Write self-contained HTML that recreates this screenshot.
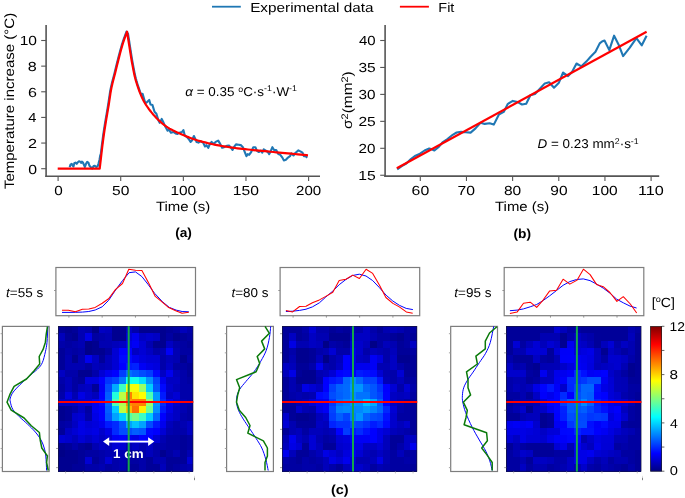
<!DOCTYPE html>
<html><head><meta charset="utf-8"><style>html,body{margin:0;padding:0;background:#fff;}svg{display:block;will-change:transform} text{text-rendering:geometricPrecision}</style></head><body>
<svg width="685" height="498" viewBox="0 0 685 498">
<line x1="212.00" y1="6.70" x2="240.80" y2="6.70" stroke="#1f77b4" stroke-width="1.8" />
<line x1="399.90" y1="6.70" x2="428.90" y2="6.70" stroke="#ff0000" stroke-width="1.8" />
<line x1="46.10" y1="25.00" x2="46.10" y2="177.10" stroke="#555" stroke-width="1.6" />
<line x1="45.30" y1="176.30" x2="320.00" y2="176.30" stroke="#555" stroke-width="1.6" />
<line x1="41.20" y1="168.70" x2="46.10" y2="168.70" stroke="#555" stroke-width="1.1" />
<line x1="41.20" y1="143.06" x2="46.10" y2="143.06" stroke="#555" stroke-width="1.1" />
<line x1="41.20" y1="117.42" x2="46.10" y2="117.42" stroke="#555" stroke-width="1.1" />
<line x1="41.20" y1="91.78" x2="46.10" y2="91.78" stroke="#555" stroke-width="1.1" />
<line x1="41.20" y1="66.14" x2="46.10" y2="66.14" stroke="#555" stroke-width="1.1" />
<line x1="41.20" y1="40.50" x2="46.10" y2="40.50" stroke="#555" stroke-width="1.1" />
<line x1="58.10" y1="176.30" x2="58.10" y2="181.00" stroke="#555" stroke-width="1.1" />
<line x1="120.72" y1="176.30" x2="120.72" y2="181.00" stroke="#555" stroke-width="1.1" />
<line x1="183.35" y1="176.30" x2="183.35" y2="181.00" stroke="#555" stroke-width="1.1" />
<line x1="245.97" y1="176.30" x2="245.97" y2="181.00" stroke="#555" stroke-width="1.1" />
<line x1="308.60" y1="176.30" x2="308.60" y2="181.00" stroke="#555" stroke-width="1.1" />
<line x1="385.10" y1="25.10" x2="385.10" y2="176.90" stroke="#555" stroke-width="1.6" />
<line x1="384.30" y1="176.10" x2="659.20" y2="176.10" stroke="#555" stroke-width="1.6" />
<line x1="380.20" y1="175.25" x2="385.10" y2="175.25" stroke="#555" stroke-width="1.1" />
<line x1="380.20" y1="148.30" x2="385.10" y2="148.30" stroke="#555" stroke-width="1.1" />
<line x1="380.20" y1="121.35" x2="385.10" y2="121.35" stroke="#555" stroke-width="1.1" />
<line x1="380.20" y1="94.40" x2="385.10" y2="94.40" stroke="#555" stroke-width="1.1" />
<line x1="380.20" y1="67.45" x2="385.10" y2="67.45" stroke="#555" stroke-width="1.1" />
<line x1="380.20" y1="40.50" x2="385.10" y2="40.50" stroke="#555" stroke-width="1.1" />
<line x1="420.30" y1="176.10" x2="420.30" y2="181.00" stroke="#555" stroke-width="1.1" />
<line x1="466.46" y1="176.10" x2="466.46" y2="181.00" stroke="#555" stroke-width="1.1" />
<line x1="512.62" y1="176.10" x2="512.62" y2="181.00" stroke="#555" stroke-width="1.1" />
<line x1="558.78" y1="176.10" x2="558.78" y2="181.00" stroke="#555" stroke-width="1.1" />
<line x1="604.94" y1="176.10" x2="604.94" y2="181.00" stroke="#555" stroke-width="1.1" />
<line x1="651.10" y1="176.10" x2="651.10" y2="181.00" stroke="#555" stroke-width="1.1" />
<polyline points="69.70,167.30 70.50,164.60 71.70,163.80 72.60,165.50 73.50,166.50 74.30,163.20 75.50,162.60 76.70,163.80 77.60,162.60 79.00,161.30 80.20,161.70 81.10,162.90 81.90,161.70 82.80,162.30 83.70,164.30 84.90,167.00 86.00,163.80 87.20,161.90 88.40,162.60 89.50,165.80 90.70,167.00 92.20,168.60 93.60,166.10 94.80,165.80 96.20,167.00 97.70,166.10 98.60,163.20 99.50,159.70 100.30,155.00 100.13,159.83 100.84,153.72 101.62,147.21 102.42,140.79 103.20,135.00 104.00,129.63 104.86,124.23 105.74,118.92 106.61,113.86 107.41,109.18 108.10,105.00 108.65,101.45 109.09,98.46 109.47,95.83 109.83,93.41 110.22,91.02 110.70,88.50 111.26,85.89 111.87,83.34 112.51,80.83 113.17,78.31 113.84,75.78 114.50,73.20 115.16,70.54 115.82,67.83 116.49,65.09 117.16,62.37 117.83,59.69 118.50,57.10 119.17,54.56 119.83,52.05 120.50,49.58 121.17,47.19 121.83,44.88 122.50,42.70 123.21,40.54 123.98,38.37 124.75,36.30 125.46,34.43 126.06,32.86 126.50,31.70 126.60,33.50 128.01,33.56 128.29,35.39 128.63,37.58 129.00,39.99 129.39,42.52 129.78,45.05 130.16,47.44 130.50,49.60 130.81,51.54 131.09,53.38 131.37,55.15 131.64,56.89 131.93,58.62 132.22,60.38 132.54,62.20 132.90,64.10 133.28,66.09 133.66,68.14 134.05,70.23 134.47,72.35 134.91,74.49 135.40,76.64 135.92,78.78 136.50,80.90 137.14,83.04 137.82,85.23 138.56,87.45 139.33,89.65 140.12,91.82 140.94,93.92 141.77,95.92 142.60,97.80 142.60,93.90 145.30,103.10 146.60,102.50 149.20,99.90 150.50,104.50 152.50,105.10 154.50,111.70 156.40,113.70 158.40,120.20 159.70,122.90 161.70,118.90 163.00,121.50 165.00,126.10 167.60,130.70 168.90,129.40 170.90,132.70 173.50,132.00 175.50,133.40 177.50,134.00 179.40,132.70 182.00,132.00 183.40,130.10 184.70,135.30 187.30,137.30 189.30,139.90 190.60,141.90 191.90,140.60 193.90,136.00 195.20,138.60 196.50,141.90 198.50,142.60 200.40,141.20 203.10,142.60 205.00,146.50 206.40,145.20 208.30,147.80 209.60,144.50 211.60,141.90 213.60,143.90 215.60,141.90 218.20,140.60 220.20,143.90 222.10,147.80 224.10,147.20 226.70,145.80 229.00,145.50 231.10,147.90 232.50,150.00 233.90,147.20 236.00,144.40 238.70,144.70 240.80,145.10 242.90,147.20 245.00,152.70 246.40,156.20 247.70,154.10 249.10,154.80 251.20,152.00 253.30,147.20 255.40,147.20 256.80,150.70 258.80,152.00 260.90,150.70 262.30,152.70 263.70,149.30 265.80,150.70 267.80,152.00 269.20,154.10 270.60,151.40 272.40,147.20 274.10,150.00 276.20,150.00 278.30,154.10 280.30,154.80 282.40,157.60 283.80,160.40 285.90,159.70 288.00,157.60 290.00,156.20 291.40,153.40 293.50,155.50 295.60,152.70 298.40,150.40 300.40,151.40 302.50,152.70 303.90,156.20 305.30,156.20 307.40,157.60" fill="none" stroke="#1f77b4" stroke-width="2.1" stroke-linejoin="round" />
<polyline points="57.70,168.70 99.70,168.70 100.14,164.99 100.73,159.83 101.44,153.72 102.22,147.21 103.02,140.79 103.80,135.00 104.60,129.63 105.46,124.23 106.34,118.92 107.21,113.86 108.01,109.18 108.70,105.00 109.25,101.45 109.69,98.46 110.07,95.83 110.43,93.41 110.82,91.02 111.30,88.50 111.86,85.89 112.47,83.34 113.11,80.83 113.77,78.31 114.44,75.78 115.10,73.20 115.76,70.54 116.42,67.83 117.09,65.09 117.76,62.37 118.43,59.69 119.10,57.10 119.77,54.56 120.43,52.05 121.10,49.58 121.77,47.19 122.43,44.88 123.10,42.70 123.81,40.54 124.58,38.37 125.35,36.30 126.06,34.43 126.66,32.86 127.10,31.70 127.31,33.06 127.59,34.89 127.93,37.08 128.30,39.49 128.69,42.02 129.08,44.55 129.46,46.94 129.80,49.10 130.11,51.04 130.39,52.88 130.67,54.65 130.94,56.39 131.23,58.12 131.52,59.88 131.84,61.70 132.20,63.60 132.58,65.59 132.96,67.64 133.35,69.73 133.77,71.85 134.21,73.99 134.70,76.14 135.22,78.28 135.80,80.40 136.44,82.54 137.12,84.73 137.86,86.95 138.63,89.15 139.42,91.32 140.24,93.42 141.07,95.42 141.90,97.30 142.73,99.04 143.57,100.67 144.41,102.21 145.28,103.67 146.18,105.10 147.11,106.49 148.08,107.89 149.10,109.30 150.18,110.73 151.30,112.16 152.47,113.58 153.67,114.98 154.90,116.34 156.15,117.68 157.42,118.96 158.70,120.20 159.97,121.38 161.23,122.50 162.49,123.59 163.79,124.63 165.13,125.65 166.53,126.64 168.01,127.62 169.60,128.60 171.33,129.58 173.21,130.55 175.19,131.51 177.23,132.45 179.28,133.36 181.28,134.22 183.21,135.04 185.00,135.80 186.66,136.49 188.22,137.12 189.71,137.70 191.15,138.24 192.58,138.75 194.01,139.24 195.48,139.72 197.00,140.20 198.58,140.68 200.20,141.14 201.85,141.59 203.50,142.02 205.15,142.44 206.80,142.84 208.42,143.23 210.00,143.60 211.51,143.95 212.93,144.27 214.31,144.56 215.69,144.85 217.10,145.13 218.60,145.41 220.22,145.70 222.00,146.00 223.94,146.32 225.98,146.64 228.13,146.97 230.38,147.31 232.69,147.64 235.08,147.97 237.52,148.29 240.00,148.60 242.55,148.90 245.20,149.20 247.91,149.49 250.69,149.77 253.50,150.06 256.34,150.34 259.17,150.62 262.00,150.90 264.83,151.18 267.68,151.46 270.55,151.73 273.44,152.01 276.33,152.28 279.23,152.55 282.12,152.83 285.00,153.10 288.03,153.39 291.29,153.70 294.64,154.02 297.94,154.34 301.06,154.64 303.87,154.90 306.23,155.13 308.00,155.30" fill="none" stroke="#ff0000" stroke-width="2.2" stroke-linejoin="round" />
<polyline points="397.20,169.40 401.70,166.10 406.30,163.50 410.90,159.00 415.50,155.70 420.00,153.70 424.60,150.50 429.20,148.50 431.80,149.20 434.40,150.50 439.00,146.60 442.90,142.00 447.40,139.00 452.70,134.80 456.60,132.50 461.10,131.90 465.70,132.20 470.60,132.60 475.50,128.40 480.50,122.70 484.70,123.90 489.60,123.20 493.80,124.60 498.80,114.70 503.70,111.90 507.90,103.80 512.80,100.90 517.70,102.10 522.00,104.50 526.20,103.80 530.40,95.30 535.00,94.00 539.90,88.80 544.80,83.40 549.10,82.30 554.00,87.70 558.90,82.70 563.10,72.50 568.10,76.10 572.30,71.50 576.50,63.50 581.40,66.30 586.30,61.60 590.60,56.70 595.50,51.80 599.70,43.40 602.00,41.50 604.50,40.50 609.30,50.10 614.10,35.70 618.90,45.30 623.10,56.10 629.80,47.70 636.40,38.10 641.80,45.30 646.60,35.70" fill="none" stroke="#1f77b4" stroke-width="2.1" stroke-linejoin="round" />
<line x1="396.80" y1="168.30" x2="646.60" y2="31.80" stroke="#ff0000" stroke-width="2.2" />
<g shape-rendering="crispEdges"><rect x="58.10" y="326.20" width="6.81" height="7.32" fill="#000099"/><rect x="64.86" y="326.20" width="6.81" height="7.32" fill="#000090"/><rect x="71.62" y="326.20" width="6.81" height="7.32" fill="#000099"/><rect x="78.38" y="326.20" width="6.81" height="7.32" fill="#0000b2"/><rect x="85.14" y="326.20" width="6.81" height="7.32" fill="#0000aa"/><rect x="91.90" y="326.20" width="6.81" height="7.32" fill="#000088"/><rect x="98.66" y="326.20" width="6.81" height="7.32" fill="#0000c3"/><rect x="105.42" y="326.20" width="6.81" height="7.32" fill="#0000bb"/><rect x="112.18" y="326.20" width="6.81" height="7.32" fill="#000090"/><rect x="118.94" y="326.20" width="6.81" height="7.32" fill="#000090"/><rect x="125.70" y="326.20" width="6.81" height="7.32" fill="#0000c3"/><rect x="132.46" y="326.20" width="6.81" height="7.32" fill="#0000aa"/><rect x="139.22" y="326.20" width="6.81" height="7.32" fill="#000090"/><rect x="145.98" y="326.20" width="6.81" height="7.32" fill="#000090"/><rect x="152.74" y="326.20" width="6.81" height="7.32" fill="#000090"/><rect x="159.50" y="326.20" width="6.81" height="7.32" fill="#000090"/><rect x="166.26" y="326.20" width="6.81" height="7.32" fill="#000099"/><rect x="173.02" y="326.20" width="6.81" height="7.32" fill="#0000a2"/><rect x="179.78" y="326.20" width="6.81" height="7.32" fill="#0000bb"/><rect x="186.54" y="326.20" width="6.81" height="7.32" fill="#0000aa"/><rect x="58.10" y="333.47" width="6.81" height="7.32" fill="#0000bb"/><rect x="64.86" y="333.47" width="6.81" height="7.32" fill="#000099"/><rect x="71.62" y="333.47" width="6.81" height="7.32" fill="#000090"/><rect x="78.38" y="333.47" width="6.81" height="7.32" fill="#0000b2"/><rect x="85.14" y="333.47" width="6.81" height="7.32" fill="#0000e5"/><rect x="91.90" y="333.47" width="6.81" height="7.32" fill="#0000a2"/><rect x="98.66" y="333.47" width="6.81" height="7.32" fill="#0000aa"/><rect x="105.42" y="333.47" width="6.81" height="7.32" fill="#0000b2"/><rect x="112.18" y="333.47" width="6.81" height="7.32" fill="#000090"/><rect x="118.94" y="333.47" width="6.81" height="7.32" fill="#000090"/><rect x="125.70" y="333.47" width="6.81" height="7.32" fill="#0000d4"/><rect x="132.46" y="333.47" width="6.81" height="7.32" fill="#0000ee"/><rect x="139.22" y="333.47" width="6.81" height="7.32" fill="#0000c3"/><rect x="145.98" y="333.47" width="6.81" height="7.32" fill="#0000cc"/><rect x="152.74" y="333.47" width="6.81" height="7.32" fill="#0000c3"/><rect x="159.50" y="333.47" width="6.81" height="7.32" fill="#000090"/><rect x="166.26" y="333.47" width="6.81" height="7.32" fill="#0000a2"/><rect x="173.02" y="333.47" width="6.81" height="7.32" fill="#000090"/><rect x="179.78" y="333.47" width="6.81" height="7.32" fill="#000099"/><rect x="186.54" y="333.47" width="6.81" height="7.32" fill="#0000a2"/><rect x="58.10" y="340.74" width="6.81" height="7.32" fill="#0000aa"/><rect x="64.86" y="340.74" width="6.81" height="7.32" fill="#0000a2"/><rect x="71.62" y="340.74" width="6.81" height="7.32" fill="#0000aa"/><rect x="78.38" y="340.74" width="6.81" height="7.32" fill="#0000b2"/><rect x="85.14" y="340.74" width="6.81" height="7.32" fill="#000088"/><rect x="91.90" y="340.74" width="6.81" height="7.32" fill="#000090"/><rect x="98.66" y="340.74" width="6.81" height="7.32" fill="#0000b2"/><rect x="105.42" y="340.74" width="6.81" height="7.32" fill="#0000b2"/><rect x="112.18" y="340.74" width="6.81" height="7.32" fill="#0000bb"/><rect x="118.94" y="340.74" width="6.81" height="7.32" fill="#0000c3"/><rect x="125.70" y="340.74" width="6.81" height="7.32" fill="#0000e5"/><rect x="132.46" y="340.74" width="6.81" height="7.32" fill="#0000f6"/><rect x="139.22" y="340.74" width="6.81" height="7.32" fill="#0000d4"/><rect x="145.98" y="340.74" width="6.81" height="7.32" fill="#0000b2"/><rect x="152.74" y="340.74" width="6.81" height="7.32" fill="#000090"/><rect x="159.50" y="340.74" width="6.81" height="7.32" fill="#000090"/><rect x="166.26" y="340.74" width="6.81" height="7.32" fill="#0000c3"/><rect x="173.02" y="340.74" width="6.81" height="7.32" fill="#0000aa"/><rect x="179.78" y="340.74" width="6.81" height="7.32" fill="#0000a2"/><rect x="186.54" y="340.74" width="6.81" height="7.32" fill="#000099"/><rect x="58.10" y="348.01" width="6.81" height="7.32" fill="#000099"/><rect x="64.86" y="348.01" width="6.81" height="7.32" fill="#0000aa"/><rect x="71.62" y="348.01" width="6.81" height="7.32" fill="#0000a2"/><rect x="78.38" y="348.01" width="6.81" height="7.32" fill="#0000aa"/><rect x="85.14" y="348.01" width="6.81" height="7.32" fill="#000088"/><rect x="91.90" y="348.01" width="6.81" height="7.32" fill="#000090"/><rect x="98.66" y="348.01" width="6.81" height="7.32" fill="#000090"/><rect x="105.42" y="348.01" width="6.81" height="7.32" fill="#0000a2"/><rect x="112.18" y="348.01" width="6.81" height="7.32" fill="#0000d4"/><rect x="118.94" y="348.01" width="6.81" height="7.32" fill="#0000ff"/><rect x="125.70" y="348.01" width="6.81" height="7.32" fill="#0000ff"/><rect x="132.46" y="348.01" width="6.81" height="7.32" fill="#0000c3"/><rect x="139.22" y="348.01" width="6.81" height="7.32" fill="#0000d4"/><rect x="145.98" y="348.01" width="6.81" height="7.32" fill="#0000c3"/><rect x="152.74" y="348.01" width="6.81" height="7.32" fill="#0000aa"/><rect x="159.50" y="348.01" width="6.81" height="7.32" fill="#0000b2"/><rect x="166.26" y="348.01" width="6.81" height="7.32" fill="#0000f6"/><rect x="173.02" y="348.01" width="6.81" height="7.32" fill="#0000b2"/><rect x="179.78" y="348.01" width="6.81" height="7.32" fill="#0000a2"/><rect x="186.54" y="348.01" width="6.81" height="7.32" fill="#0000a2"/><rect x="58.10" y="355.28" width="6.81" height="7.32" fill="#000099"/><rect x="64.86" y="355.28" width="6.81" height="7.32" fill="#0000b2"/><rect x="71.62" y="355.28" width="6.81" height="7.32" fill="#000090"/><rect x="78.38" y="355.28" width="6.81" height="7.32" fill="#0000b2"/><rect x="85.14" y="355.28" width="6.81" height="7.32" fill="#0000ee"/><rect x="91.90" y="355.28" width="6.81" height="7.32" fill="#0000c3"/><rect x="98.66" y="355.28" width="6.81" height="7.32" fill="#000099"/><rect x="105.42" y="355.28" width="6.81" height="7.32" fill="#0000bb"/><rect x="112.18" y="355.28" width="6.81" height="7.32" fill="#0000d4"/><rect x="118.94" y="355.28" width="6.81" height="7.32" fill="#0008ff"/><rect x="125.70" y="355.28" width="6.81" height="7.32" fill="#0008ff"/><rect x="132.46" y="355.28" width="6.81" height="7.32" fill="#0000ee"/><rect x="139.22" y="355.28" width="6.81" height="7.32" fill="#0000dd"/><rect x="145.98" y="355.28" width="6.81" height="7.32" fill="#0000d4"/><rect x="152.74" y="355.28" width="6.81" height="7.32" fill="#0000d4"/><rect x="159.50" y="355.28" width="6.81" height="7.32" fill="#0000aa"/><rect x="166.26" y="355.28" width="6.81" height="7.32" fill="#0000bb"/><rect x="173.02" y="355.28" width="6.81" height="7.32" fill="#0000b2"/><rect x="179.78" y="355.28" width="6.81" height="7.32" fill="#000090"/><rect x="186.54" y="355.28" width="6.81" height="7.32" fill="#0000aa"/><rect x="58.10" y="362.55" width="6.81" height="7.32" fill="#000099"/><rect x="64.86" y="362.55" width="6.81" height="7.32" fill="#0000b2"/><rect x="71.62" y="362.55" width="6.81" height="7.32" fill="#0000b2"/><rect x="78.38" y="362.55" width="6.81" height="7.32" fill="#0000b2"/><rect x="85.14" y="362.55" width="6.81" height="7.32" fill="#0000a2"/><rect x="91.90" y="362.55" width="6.81" height="7.32" fill="#0000bb"/><rect x="98.66" y="362.55" width="6.81" height="7.32" fill="#0000b2"/><rect x="105.42" y="362.55" width="6.81" height="7.32" fill="#0000bb"/><rect x="112.18" y="362.55" width="6.81" height="7.32" fill="#0000d4"/><rect x="118.94" y="362.55" width="6.81" height="7.32" fill="#0000ff"/><rect x="125.70" y="362.55" width="6.81" height="7.32" fill="#001aff"/><rect x="132.46" y="362.55" width="6.81" height="7.32" fill="#0022ff"/><rect x="139.22" y="362.55" width="6.81" height="7.32" fill="#0000f6"/><rect x="145.98" y="362.55" width="6.81" height="7.32" fill="#0000e5"/><rect x="152.74" y="362.55" width="6.81" height="7.32" fill="#0000dd"/><rect x="159.50" y="362.55" width="6.81" height="7.32" fill="#0000aa"/><rect x="166.26" y="362.55" width="6.81" height="7.32" fill="#0000c3"/><rect x="173.02" y="362.55" width="6.81" height="7.32" fill="#0000a2"/><rect x="179.78" y="362.55" width="6.81" height="7.32" fill="#0000a2"/><rect x="186.54" y="362.55" width="6.81" height="7.32" fill="#000099"/><rect x="58.10" y="369.82" width="6.81" height="7.32" fill="#0000c3"/><rect x="64.86" y="369.82" width="6.81" height="7.32" fill="#0000aa"/><rect x="71.62" y="369.82" width="6.81" height="7.32" fill="#0000aa"/><rect x="78.38" y="369.82" width="6.81" height="7.32" fill="#000090"/><rect x="85.14" y="369.82" width="6.81" height="7.32" fill="#000090"/><rect x="91.90" y="369.82" width="6.81" height="7.32" fill="#0000aa"/><rect x="98.66" y="369.82" width="6.81" height="7.32" fill="#0000d4"/><rect x="105.42" y="369.82" width="6.81" height="7.32" fill="#0000ee"/><rect x="112.18" y="369.82" width="6.81" height="7.32" fill="#0000ff"/><rect x="118.94" y="369.82" width="6.81" height="7.32" fill="#003cff"/><rect x="125.70" y="369.82" width="6.81" height="7.32" fill="#006eff"/><rect x="132.46" y="369.82" width="6.81" height="7.32" fill="#005eff"/><rect x="139.22" y="369.82" width="6.81" height="7.32" fill="#004cff"/><rect x="145.98" y="369.82" width="6.81" height="7.32" fill="#003cff"/><rect x="152.74" y="369.82" width="6.81" height="7.32" fill="#0008ff"/><rect x="159.50" y="369.82" width="6.81" height="7.32" fill="#0000c3"/><rect x="166.26" y="369.82" width="6.81" height="7.32" fill="#0000ee"/><rect x="173.02" y="369.82" width="6.81" height="7.32" fill="#0000bb"/><rect x="179.78" y="369.82" width="6.81" height="7.32" fill="#0000aa"/><rect x="186.54" y="369.82" width="6.81" height="7.32" fill="#000099"/><rect x="58.10" y="377.09" width="6.81" height="7.32" fill="#0000aa"/><rect x="64.86" y="377.09" width="6.81" height="7.32" fill="#0000bb"/><rect x="71.62" y="377.09" width="6.81" height="7.32" fill="#0000a2"/><rect x="78.38" y="377.09" width="6.81" height="7.32" fill="#000099"/><rect x="85.14" y="377.09" width="6.81" height="7.32" fill="#0000dd"/><rect x="91.90" y="377.09" width="6.81" height="7.32" fill="#0000dd"/><rect x="98.66" y="377.09" width="6.81" height="7.32" fill="#0000ff"/><rect x="105.42" y="377.09" width="6.81" height="7.32" fill="#0033ff"/><rect x="112.18" y="377.09" width="6.81" height="7.32" fill="#0044ff"/><rect x="118.94" y="377.09" width="6.81" height="7.32" fill="#0077ff"/><rect x="125.70" y="377.09" width="6.81" height="7.32" fill="#08fff7"/><rect x="132.46" y="377.09" width="6.81" height="7.32" fill="#11ffee"/><rect x="139.22" y="377.09" width="6.81" height="7.32" fill="#00ddff"/><rect x="145.98" y="377.09" width="6.81" height="7.32" fill="#0090ff"/><rect x="152.74" y="377.09" width="6.81" height="7.32" fill="#0044ff"/><rect x="159.50" y="377.09" width="6.81" height="7.32" fill="#0000ee"/><rect x="166.26" y="377.09" width="6.81" height="7.32" fill="#0000c3"/><rect x="173.02" y="377.09" width="6.81" height="7.32" fill="#0000c3"/><rect x="179.78" y="377.09" width="6.81" height="7.32" fill="#0000aa"/><rect x="186.54" y="377.09" width="6.81" height="7.32" fill="#0000a2"/><rect x="58.10" y="384.36" width="6.81" height="7.32" fill="#0000a2"/><rect x="64.86" y="384.36" width="6.81" height="7.32" fill="#0000bb"/><rect x="71.62" y="384.36" width="6.81" height="7.32" fill="#0000a2"/><rect x="78.38" y="384.36" width="6.81" height="7.32" fill="#0000bb"/><rect x="85.14" y="384.36" width="6.81" height="7.32" fill="#0000c3"/><rect x="91.90" y="384.36" width="6.81" height="7.32" fill="#000099"/><rect x="98.66" y="384.36" width="6.81" height="7.32" fill="#0000f6"/><rect x="105.42" y="384.36" width="6.81" height="7.32" fill="#004cff"/><rect x="112.18" y="384.36" width="6.81" height="7.32" fill="#00aaff"/><rect x="118.94" y="384.36" width="6.81" height="7.32" fill="#3cffc3"/><rect x="125.70" y="384.36" width="6.81" height="7.32" fill="#eeff11"/><rect x="132.46" y="384.36" width="6.81" height="7.32" fill="#f7ff08"/><rect x="139.22" y="384.36" width="6.81" height="7.32" fill="#99ff66"/><rect x="145.98" y="384.36" width="6.81" height="7.32" fill="#00ccff"/><rect x="152.74" y="384.36" width="6.81" height="7.32" fill="#0055ff"/><rect x="159.50" y="384.36" width="6.81" height="7.32" fill="#0008ff"/><rect x="166.26" y="384.36" width="6.81" height="7.32" fill="#0000cc"/><rect x="173.02" y="384.36" width="6.81" height="7.32" fill="#0000bb"/><rect x="179.78" y="384.36" width="6.81" height="7.32" fill="#0000aa"/><rect x="186.54" y="384.36" width="6.81" height="7.32" fill="#0000aa"/><rect x="58.10" y="391.63" width="6.81" height="7.32" fill="#0000aa"/><rect x="64.86" y="391.63" width="6.81" height="7.32" fill="#0000dd"/><rect x="71.62" y="391.63" width="6.81" height="7.32" fill="#0000b2"/><rect x="78.38" y="391.63" width="6.81" height="7.32" fill="#0000e5"/><rect x="85.14" y="391.63" width="6.81" height="7.32" fill="#0000cc"/><rect x="91.90" y="391.63" width="6.81" height="7.32" fill="#0000bb"/><rect x="98.66" y="391.63" width="6.81" height="7.32" fill="#0000ff"/><rect x="105.42" y="391.63" width="6.81" height="7.32" fill="#005eff"/><rect x="112.18" y="391.63" width="6.81" height="7.32" fill="#22ffdd"/><rect x="118.94" y="391.63" width="6.81" height="7.32" fill="#bbff44"/><rect x="125.70" y="391.63" width="6.81" height="7.32" fill="#ff8000"/><rect x="132.46" y="391.63" width="6.81" height="7.32" fill="#ffe500"/><rect x="139.22" y="391.63" width="6.81" height="7.32" fill="#ffff00"/><rect x="145.98" y="391.63" width="6.81" height="7.32" fill="#4dffb2"/><rect x="152.74" y="391.63" width="6.81" height="7.32" fill="#0099ff"/><rect x="159.50" y="391.63" width="6.81" height="7.32" fill="#001aff"/><rect x="166.26" y="391.63" width="6.81" height="7.32" fill="#0000c3"/><rect x="173.02" y="391.63" width="6.81" height="7.32" fill="#0000d4"/><rect x="179.78" y="391.63" width="6.81" height="7.32" fill="#0000aa"/><rect x="186.54" y="391.63" width="6.81" height="7.32" fill="#0000aa"/><rect x="58.10" y="398.90" width="6.81" height="7.32" fill="#0000c3"/><rect x="64.86" y="398.90" width="6.81" height="7.32" fill="#0000c3"/><rect x="71.62" y="398.90" width="6.81" height="7.32" fill="#0000c3"/><rect x="78.38" y="398.90" width="6.81" height="7.32" fill="#0000d4"/><rect x="85.14" y="398.90" width="6.81" height="7.32" fill="#0000d4"/><rect x="91.90" y="398.90" width="6.81" height="7.32" fill="#0000ee"/><rect x="98.66" y="398.90" width="6.81" height="7.32" fill="#0008ff"/><rect x="105.42" y="398.90" width="6.81" height="7.32" fill="#0066ff"/><rect x="112.18" y="398.90" width="6.81" height="7.32" fill="#4dffb2"/><rect x="118.94" y="398.90" width="6.81" height="7.32" fill="#aaff55"/><rect x="125.70" y="398.90" width="6.81" height="7.32" fill="#ff9000"/><rect x="132.46" y="398.90" width="6.81" height="7.32" fill="#ff8000"/><rect x="139.22" y="398.90" width="6.81" height="7.32" fill="#ff8000"/><rect x="145.98" y="398.90" width="6.81" height="7.32" fill="#91ff6e"/><rect x="152.74" y="398.90" width="6.81" height="7.32" fill="#0099ff"/><rect x="159.50" y="398.90" width="6.81" height="7.32" fill="#002aff"/><rect x="166.26" y="398.90" width="6.81" height="7.32" fill="#0000ee"/><rect x="173.02" y="398.90" width="6.81" height="7.32" fill="#0000cc"/><rect x="179.78" y="398.90" width="6.81" height="7.32" fill="#0000b2"/><rect x="186.54" y="398.90" width="6.81" height="7.32" fill="#0000aa"/><rect x="58.10" y="406.17" width="6.81" height="7.32" fill="#000090"/><rect x="64.86" y="406.17" width="6.81" height="7.32" fill="#000099"/><rect x="71.62" y="406.17" width="6.81" height="7.32" fill="#0000aa"/><rect x="78.38" y="406.17" width="6.81" height="7.32" fill="#0000c3"/><rect x="85.14" y="406.17" width="6.81" height="7.32" fill="#0000a2"/><rect x="91.90" y="406.17" width="6.81" height="7.32" fill="#0000ee"/><rect x="98.66" y="406.17" width="6.81" height="7.32" fill="#0000ff"/><rect x="105.42" y="406.17" width="6.81" height="7.32" fill="#005eff"/><rect x="112.18" y="406.17" width="6.81" height="7.32" fill="#00ccff"/><rect x="118.94" y="406.17" width="6.81" height="7.32" fill="#bbff44"/><rect x="125.70" y="406.17" width="6.81" height="7.32" fill="#ffbb00"/><rect x="132.46" y="406.17" width="6.81" height="7.32" fill="#ff6f00"/><rect x="139.22" y="406.17" width="6.81" height="7.32" fill="#ffee00"/><rect x="145.98" y="406.17" width="6.81" height="7.32" fill="#6eff90"/><rect x="152.74" y="406.17" width="6.81" height="7.32" fill="#0090ff"/><rect x="159.50" y="406.17" width="6.81" height="7.32" fill="#001aff"/><rect x="166.26" y="406.17" width="6.81" height="7.32" fill="#0000e5"/><rect x="173.02" y="406.17" width="6.81" height="7.32" fill="#0000c3"/><rect x="179.78" y="406.17" width="6.81" height="7.32" fill="#0000b2"/><rect x="186.54" y="406.17" width="6.81" height="7.32" fill="#0000a2"/><rect x="58.10" y="413.44" width="6.81" height="7.32" fill="#000090"/><rect x="64.86" y="413.44" width="6.81" height="7.32" fill="#000099"/><rect x="71.62" y="413.44" width="6.81" height="7.32" fill="#0000cc"/><rect x="78.38" y="413.44" width="6.81" height="7.32" fill="#0000d4"/><rect x="85.14" y="413.44" width="6.81" height="7.32" fill="#0000aa"/><rect x="91.90" y="413.44" width="6.81" height="7.32" fill="#0000e5"/><rect x="98.66" y="413.44" width="6.81" height="7.32" fill="#0000ff"/><rect x="105.42" y="413.44" width="6.81" height="7.32" fill="#0055ff"/><rect x="112.18" y="413.44" width="6.81" height="7.32" fill="#00a2ff"/><rect x="118.94" y="413.44" width="6.81" height="7.32" fill="#00d4ff"/><rect x="125.70" y="413.44" width="6.81" height="7.32" fill="#55ffaa"/><rect x="132.46" y="413.44" width="6.81" height="7.32" fill="#77ff88"/><rect x="139.22" y="413.44" width="6.81" height="7.32" fill="#3cffc3"/><rect x="145.98" y="413.44" width="6.81" height="7.32" fill="#00ccff"/><rect x="152.74" y="413.44" width="6.81" height="7.32" fill="#0066ff"/><rect x="159.50" y="413.44" width="6.81" height="7.32" fill="#0000ff"/><rect x="166.26" y="413.44" width="6.81" height="7.32" fill="#0000d4"/><rect x="173.02" y="413.44" width="6.81" height="7.32" fill="#0000c3"/><rect x="179.78" y="413.44" width="6.81" height="7.32" fill="#0000aa"/><rect x="186.54" y="413.44" width="6.81" height="7.32" fill="#0000a2"/><rect x="58.10" y="420.71" width="6.81" height="7.32" fill="#0000a2"/><rect x="64.86" y="420.71" width="6.81" height="7.32" fill="#0000aa"/><rect x="71.62" y="420.71" width="6.81" height="7.32" fill="#0000c3"/><rect x="78.38" y="420.71" width="6.81" height="7.32" fill="#0000e5"/><rect x="85.14" y="420.71" width="6.81" height="7.32" fill="#0000d4"/><rect x="91.90" y="420.71" width="6.81" height="7.32" fill="#0000dd"/><rect x="98.66" y="420.71" width="6.81" height="7.32" fill="#0000ee"/><rect x="105.42" y="420.71" width="6.81" height="7.32" fill="#001aff"/><rect x="112.18" y="420.71" width="6.81" height="7.32" fill="#002aff"/><rect x="118.94" y="420.71" width="6.81" height="7.32" fill="#0055ff"/><rect x="125.70" y="420.71" width="6.81" height="7.32" fill="#00a2ff"/><rect x="132.46" y="420.71" width="6.81" height="7.32" fill="#00c3ff"/><rect x="139.22" y="420.71" width="6.81" height="7.32" fill="#00a2ff"/><rect x="145.98" y="420.71" width="6.81" height="7.32" fill="#004cff"/><rect x="152.74" y="420.71" width="6.81" height="7.32" fill="#001aff"/><rect x="159.50" y="420.71" width="6.81" height="7.32" fill="#0000ee"/><rect x="166.26" y="420.71" width="6.81" height="7.32" fill="#0000bb"/><rect x="173.02" y="420.71" width="6.81" height="7.32" fill="#0000aa"/><rect x="179.78" y="420.71" width="6.81" height="7.32" fill="#0000b2"/><rect x="186.54" y="420.71" width="6.81" height="7.32" fill="#0000c3"/><rect x="58.10" y="427.98" width="6.81" height="7.32" fill="#000099"/><rect x="64.86" y="427.98" width="6.81" height="7.32" fill="#0000c3"/><rect x="71.62" y="427.98" width="6.81" height="7.32" fill="#0000d4"/><rect x="78.38" y="427.98" width="6.81" height="7.32" fill="#0000e5"/><rect x="85.14" y="427.98" width="6.81" height="7.32" fill="#0000dd"/><rect x="91.90" y="427.98" width="6.81" height="7.32" fill="#0000e5"/><rect x="98.66" y="427.98" width="6.81" height="7.32" fill="#0000cc"/><rect x="105.42" y="427.98" width="6.81" height="7.32" fill="#0000e5"/><rect x="112.18" y="427.98" width="6.81" height="7.32" fill="#002aff"/><rect x="118.94" y="427.98" width="6.81" height="7.32" fill="#004cff"/><rect x="125.70" y="427.98" width="6.81" height="7.32" fill="#004cff"/><rect x="132.46" y="427.98" width="6.81" height="7.32" fill="#005eff"/><rect x="139.22" y="427.98" width="6.81" height="7.32" fill="#0055ff"/><rect x="145.98" y="427.98" width="6.81" height="7.32" fill="#0008ff"/><rect x="152.74" y="427.98" width="6.81" height="7.32" fill="#0000ff"/><rect x="159.50" y="427.98" width="6.81" height="7.32" fill="#0000d4"/><rect x="166.26" y="427.98" width="6.81" height="7.32" fill="#0000b2"/><rect x="173.02" y="427.98" width="6.81" height="7.32" fill="#0000aa"/><rect x="179.78" y="427.98" width="6.81" height="7.32" fill="#0000aa"/><rect x="186.54" y="427.98" width="6.81" height="7.32" fill="#0000c3"/><rect x="58.10" y="435.25" width="6.81" height="7.32" fill="#0000d4"/><rect x="64.86" y="435.25" width="6.81" height="7.32" fill="#0000cc"/><rect x="71.62" y="435.25" width="6.81" height="7.32" fill="#0000bb"/><rect x="78.38" y="435.25" width="6.81" height="7.32" fill="#0000d4"/><rect x="85.14" y="435.25" width="6.81" height="7.32" fill="#0000c3"/><rect x="91.90" y="435.25" width="6.81" height="7.32" fill="#0000d4"/><rect x="98.66" y="435.25" width="6.81" height="7.32" fill="#0000c3"/><rect x="105.42" y="435.25" width="6.81" height="7.32" fill="#0000d4"/><rect x="112.18" y="435.25" width="6.81" height="7.32" fill="#0000f6"/><rect x="118.94" y="435.25" width="6.81" height="7.32" fill="#0000ff"/><rect x="125.70" y="435.25" width="6.81" height="7.32" fill="#0000ee"/><rect x="132.46" y="435.25" width="6.81" height="7.32" fill="#0000e5"/><rect x="139.22" y="435.25" width="6.81" height="7.32" fill="#0000ff"/><rect x="145.98" y="435.25" width="6.81" height="7.32" fill="#0000ff"/><rect x="152.74" y="435.25" width="6.81" height="7.32" fill="#0000d4"/><rect x="159.50" y="435.25" width="6.81" height="7.32" fill="#0000b2"/><rect x="166.26" y="435.25" width="6.81" height="7.32" fill="#0000a2"/><rect x="173.02" y="435.25" width="6.81" height="7.32" fill="#0000a2"/><rect x="179.78" y="435.25" width="6.81" height="7.32" fill="#000099"/><rect x="186.54" y="435.25" width="6.81" height="7.32" fill="#0000a2"/><rect x="58.10" y="442.52" width="6.81" height="7.32" fill="#000090"/><rect x="64.86" y="442.52" width="6.81" height="7.32" fill="#000099"/><rect x="71.62" y="442.52" width="6.81" height="7.32" fill="#0000aa"/><rect x="78.38" y="442.52" width="6.81" height="7.32" fill="#000099"/><rect x="85.14" y="442.52" width="6.81" height="7.32" fill="#000090"/><rect x="91.90" y="442.52" width="6.81" height="7.32" fill="#0000b2"/><rect x="98.66" y="442.52" width="6.81" height="7.32" fill="#0000c3"/><rect x="105.42" y="442.52" width="6.81" height="7.32" fill="#0000bb"/><rect x="112.18" y="442.52" width="6.81" height="7.32" fill="#0000d4"/><rect x="118.94" y="442.52" width="6.81" height="7.32" fill="#0000d4"/><rect x="125.70" y="442.52" width="6.81" height="7.32" fill="#0000b2"/><rect x="132.46" y="442.52" width="6.81" height="7.32" fill="#0000c3"/><rect x="139.22" y="442.52" width="6.81" height="7.32" fill="#0000b2"/><rect x="145.98" y="442.52" width="6.81" height="7.32" fill="#0000c3"/><rect x="152.74" y="442.52" width="6.81" height="7.32" fill="#0000aa"/><rect x="159.50" y="442.52" width="6.81" height="7.32" fill="#0000aa"/><rect x="166.26" y="442.52" width="6.81" height="7.32" fill="#0000a2"/><rect x="173.02" y="442.52" width="6.81" height="7.32" fill="#0000a2"/><rect x="179.78" y="442.52" width="6.81" height="7.32" fill="#000099"/><rect x="186.54" y="442.52" width="6.81" height="7.32" fill="#0000a2"/><rect x="58.10" y="449.79" width="6.81" height="7.32" fill="#000088"/><rect x="64.86" y="449.79" width="6.81" height="7.32" fill="#000090"/><rect x="71.62" y="449.79" width="6.81" height="7.32" fill="#000090"/><rect x="78.38" y="449.79" width="6.81" height="7.32" fill="#000099"/><rect x="85.14" y="449.79" width="6.81" height="7.32" fill="#0000a2"/><rect x="91.90" y="449.79" width="6.81" height="7.32" fill="#0000a2"/><rect x="98.66" y="449.79" width="6.81" height="7.32" fill="#0000aa"/><rect x="105.42" y="449.79" width="6.81" height="7.32" fill="#0000b2"/><rect x="112.18" y="449.79" width="6.81" height="7.32" fill="#0000b2"/><rect x="118.94" y="449.79" width="6.81" height="7.32" fill="#0000b2"/><rect x="125.70" y="449.79" width="6.81" height="7.32" fill="#000099"/><rect x="132.46" y="449.79" width="6.81" height="7.32" fill="#0000a2"/><rect x="139.22" y="449.79" width="6.81" height="7.32" fill="#0000aa"/><rect x="145.98" y="449.79" width="6.81" height="7.32" fill="#0000bb"/><rect x="152.74" y="449.79" width="6.81" height="7.32" fill="#0000aa"/><rect x="159.50" y="449.79" width="6.81" height="7.32" fill="#000090"/><rect x="166.26" y="449.79" width="6.81" height="7.32" fill="#0000a2"/><rect x="173.02" y="449.79" width="6.81" height="7.32" fill="#0000b2"/><rect x="179.78" y="449.79" width="6.81" height="7.32" fill="#000099"/><rect x="186.54" y="449.79" width="6.81" height="7.32" fill="#0000b2"/><rect x="58.10" y="457.06" width="6.81" height="7.32" fill="#000090"/><rect x="64.86" y="457.06" width="6.81" height="7.32" fill="#000090"/><rect x="71.62" y="457.06" width="6.81" height="7.32" fill="#000090"/><rect x="78.38" y="457.06" width="6.81" height="7.32" fill="#000099"/><rect x="85.14" y="457.06" width="6.81" height="7.32" fill="#0000d4"/><rect x="91.90" y="457.06" width="6.81" height="7.32" fill="#000099"/><rect x="98.66" y="457.06" width="6.81" height="7.32" fill="#0000aa"/><rect x="105.42" y="457.06" width="6.81" height="7.32" fill="#0000d4"/><rect x="112.18" y="457.06" width="6.81" height="7.32" fill="#0000aa"/><rect x="118.94" y="457.06" width="6.81" height="7.32" fill="#0000b2"/><rect x="125.70" y="457.06" width="6.81" height="7.32" fill="#0000a2"/><rect x="132.46" y="457.06" width="6.81" height="7.32" fill="#0000a2"/><rect x="139.22" y="457.06" width="6.81" height="7.32" fill="#0000aa"/><rect x="145.98" y="457.06" width="6.81" height="7.32" fill="#000099"/><rect x="152.74" y="457.06" width="6.81" height="7.32" fill="#0000b2"/><rect x="159.50" y="457.06" width="6.81" height="7.32" fill="#0000b2"/><rect x="166.26" y="457.06" width="6.81" height="7.32" fill="#000099"/><rect x="173.02" y="457.06" width="6.81" height="7.32" fill="#000099"/><rect x="179.78" y="457.06" width="6.81" height="7.32" fill="#000099"/><rect x="186.54" y="457.06" width="6.81" height="7.32" fill="#0000d4"/><rect x="58.10" y="464.33" width="6.81" height="7.32" fill="#000090"/><rect x="64.86" y="464.33" width="6.81" height="7.32" fill="#000090"/><rect x="71.62" y="464.33" width="6.81" height="7.32" fill="#000099"/><rect x="78.38" y="464.33" width="6.81" height="7.32" fill="#000099"/><rect x="85.14" y="464.33" width="6.81" height="7.32" fill="#0000aa"/><rect x="91.90" y="464.33" width="6.81" height="7.32" fill="#0000aa"/><rect x="98.66" y="464.33" width="6.81" height="7.32" fill="#0000b2"/><rect x="105.42" y="464.33" width="6.81" height="7.32" fill="#0000a2"/><rect x="112.18" y="464.33" width="6.81" height="7.32" fill="#0000aa"/><rect x="118.94" y="464.33" width="6.81" height="7.32" fill="#0000b2"/><rect x="125.70" y="464.33" width="6.81" height="7.32" fill="#000099"/><rect x="132.46" y="464.33" width="6.81" height="7.32" fill="#000099"/><rect x="139.22" y="464.33" width="6.81" height="7.32" fill="#0000aa"/><rect x="145.98" y="464.33" width="6.81" height="7.32" fill="#000099"/><rect x="152.74" y="464.33" width="6.81" height="7.32" fill="#000099"/><rect x="159.50" y="464.33" width="6.81" height="7.32" fill="#0000bb"/><rect x="166.26" y="464.33" width="6.81" height="7.32" fill="#000099"/><rect x="173.02" y="464.33" width="6.81" height="7.32" fill="#0000a2"/><rect x="179.78" y="464.33" width="6.81" height="7.32" fill="#0000aa"/><rect x="186.54" y="464.33" width="6.81" height="7.32" fill="#0000b2"/></g>
<rect x="58.45" y="326.55" width="134.50" height="144.70" fill="none" stroke="#14143a" stroke-width="0.7"/>
<g shape-rendering="crispEdges"><rect x="282.00" y="326.20" width="6.81" height="7.32" fill="#000099"/><rect x="288.76" y="326.20" width="6.81" height="7.32" fill="#000099"/><rect x="295.52" y="326.20" width="6.81" height="7.32" fill="#000099"/><rect x="302.28" y="326.20" width="6.81" height="7.32" fill="#0000aa"/><rect x="309.04" y="326.20" width="6.81" height="7.32" fill="#0000d4"/><rect x="315.80" y="326.20" width="6.81" height="7.32" fill="#0000aa"/><rect x="322.56" y="326.20" width="6.81" height="7.32" fill="#0000aa"/><rect x="329.32" y="326.20" width="6.81" height="7.32" fill="#000099"/><rect x="336.08" y="326.20" width="6.81" height="7.32" fill="#0000a2"/><rect x="342.84" y="326.20" width="6.81" height="7.32" fill="#000099"/><rect x="349.60" y="326.20" width="6.81" height="7.32" fill="#0000b2"/><rect x="356.36" y="326.20" width="6.81" height="7.32" fill="#0000aa"/><rect x="363.12" y="326.20" width="6.81" height="7.32" fill="#0000c3"/><rect x="369.88" y="326.20" width="6.81" height="7.32" fill="#0000aa"/><rect x="376.64" y="326.20" width="6.81" height="7.32" fill="#000099"/><rect x="383.40" y="326.20" width="6.81" height="7.32" fill="#0000b2"/><rect x="390.16" y="326.20" width="6.81" height="7.32" fill="#0000bb"/><rect x="396.92" y="326.20" width="6.81" height="7.32" fill="#0000b2"/><rect x="403.68" y="326.20" width="6.81" height="7.32" fill="#0000a2"/><rect x="410.44" y="326.20" width="6.81" height="7.32" fill="#0000a2"/><rect x="282.00" y="333.47" width="6.81" height="7.32" fill="#000099"/><rect x="288.76" y="333.47" width="6.81" height="7.32" fill="#0000c3"/><rect x="295.52" y="333.47" width="6.81" height="7.32" fill="#000099"/><rect x="302.28" y="333.47" width="6.81" height="7.32" fill="#0000a2"/><rect x="309.04" y="333.47" width="6.81" height="7.32" fill="#0000c3"/><rect x="315.80" y="333.47" width="6.81" height="7.32" fill="#0000b2"/><rect x="322.56" y="333.47" width="6.81" height="7.32" fill="#0000b2"/><rect x="329.32" y="333.47" width="6.81" height="7.32" fill="#000090"/><rect x="336.08" y="333.47" width="6.81" height="7.32" fill="#000090"/><rect x="342.84" y="333.47" width="6.81" height="7.32" fill="#000090"/><rect x="349.60" y="333.47" width="6.81" height="7.32" fill="#0000c3"/><rect x="356.36" y="333.47" width="6.81" height="7.32" fill="#0000c3"/><rect x="363.12" y="333.47" width="6.81" height="7.32" fill="#0000c3"/><rect x="369.88" y="333.47" width="6.81" height="7.32" fill="#0000b2"/><rect x="376.64" y="333.47" width="6.81" height="7.32" fill="#0000a2"/><rect x="383.40" y="333.47" width="6.81" height="7.32" fill="#0000a2"/><rect x="390.16" y="333.47" width="6.81" height="7.32" fill="#000099"/><rect x="396.92" y="333.47" width="6.81" height="7.32" fill="#000090"/><rect x="403.68" y="333.47" width="6.81" height="7.32" fill="#0000a2"/><rect x="410.44" y="333.47" width="6.81" height="7.32" fill="#000099"/><rect x="282.00" y="340.74" width="6.81" height="7.32" fill="#000099"/><rect x="288.76" y="340.74" width="6.81" height="7.32" fill="#0000e5"/><rect x="295.52" y="340.74" width="6.81" height="7.32" fill="#0000b2"/><rect x="302.28" y="340.74" width="6.81" height="7.32" fill="#0000b2"/><rect x="309.04" y="340.74" width="6.81" height="7.32" fill="#0000c3"/><rect x="315.80" y="340.74" width="6.81" height="7.32" fill="#0000bb"/><rect x="322.56" y="340.74" width="6.81" height="7.32" fill="#000088"/><rect x="329.32" y="340.74" width="6.81" height="7.32" fill="#0000aa"/><rect x="336.08" y="340.74" width="6.81" height="7.32" fill="#0000a2"/><rect x="342.84" y="340.74" width="6.81" height="7.32" fill="#000099"/><rect x="349.60" y="340.74" width="6.81" height="7.32" fill="#0000d4"/><rect x="356.36" y="340.74" width="6.81" height="7.32" fill="#0000cc"/><rect x="363.12" y="340.74" width="6.81" height="7.32" fill="#0000bb"/><rect x="369.88" y="340.74" width="6.81" height="7.32" fill="#000088"/><rect x="376.64" y="340.74" width="6.81" height="7.32" fill="#0000a2"/><rect x="383.40" y="340.74" width="6.81" height="7.32" fill="#0000bb"/><rect x="390.16" y="340.74" width="6.81" height="7.32" fill="#0000b2"/><rect x="396.92" y="340.74" width="6.81" height="7.32" fill="#000099"/><rect x="403.68" y="340.74" width="6.81" height="7.32" fill="#0000a2"/><rect x="410.44" y="340.74" width="6.81" height="7.32" fill="#0000c3"/><rect x="282.00" y="348.01" width="6.81" height="7.32" fill="#000099"/><rect x="288.76" y="348.01" width="6.81" height="7.32" fill="#0000aa"/><rect x="295.52" y="348.01" width="6.81" height="7.32" fill="#000090"/><rect x="302.28" y="348.01" width="6.81" height="7.32" fill="#000090"/><rect x="309.04" y="348.01" width="6.81" height="7.32" fill="#000099"/><rect x="315.80" y="348.01" width="6.81" height="7.32" fill="#0000aa"/><rect x="322.56" y="348.01" width="6.81" height="7.32" fill="#0000b2"/><rect x="329.32" y="348.01" width="6.81" height="7.32" fill="#0000d4"/><rect x="336.08" y="348.01" width="6.81" height="7.32" fill="#0000aa"/><rect x="342.84" y="348.01" width="6.81" height="7.32" fill="#0000aa"/><rect x="349.60" y="348.01" width="6.81" height="7.32" fill="#0000e5"/><rect x="356.36" y="348.01" width="6.81" height="7.32" fill="#0000cc"/><rect x="363.12" y="348.01" width="6.81" height="7.32" fill="#0000aa"/><rect x="369.88" y="348.01" width="6.81" height="7.32" fill="#0000bb"/><rect x="376.64" y="348.01" width="6.81" height="7.32" fill="#0000b2"/><rect x="383.40" y="348.01" width="6.81" height="7.32" fill="#0000aa"/><rect x="390.16" y="348.01" width="6.81" height="7.32" fill="#0000bb"/><rect x="396.92" y="348.01" width="6.81" height="7.32" fill="#000099"/><rect x="403.68" y="348.01" width="6.81" height="7.32" fill="#000099"/><rect x="410.44" y="348.01" width="6.81" height="7.32" fill="#0000a2"/><rect x="282.00" y="355.28" width="6.81" height="7.32" fill="#000099"/><rect x="288.76" y="355.28" width="6.81" height="7.32" fill="#0000b2"/><rect x="295.52" y="355.28" width="6.81" height="7.32" fill="#000090"/><rect x="302.28" y="355.28" width="6.81" height="7.32" fill="#000090"/><rect x="309.04" y="355.28" width="6.81" height="7.32" fill="#000099"/><rect x="315.80" y="355.28" width="6.81" height="7.32" fill="#0000bb"/><rect x="322.56" y="355.28" width="6.81" height="7.32" fill="#000088"/><rect x="329.32" y="355.28" width="6.81" height="7.32" fill="#0000aa"/><rect x="336.08" y="355.28" width="6.81" height="7.32" fill="#0000bb"/><rect x="342.84" y="355.28" width="6.81" height="7.32" fill="#0000ff"/><rect x="349.60" y="355.28" width="6.81" height="7.32" fill="#0000e5"/><rect x="356.36" y="355.28" width="6.81" height="7.32" fill="#0000c3"/><rect x="363.12" y="355.28" width="6.81" height="7.32" fill="#0000bb"/><rect x="369.88" y="355.28" width="6.81" height="7.32" fill="#0000f6"/><rect x="376.64" y="355.28" width="6.81" height="7.32" fill="#0000dd"/><rect x="383.40" y="355.28" width="6.81" height="7.32" fill="#0000aa"/><rect x="390.16" y="355.28" width="6.81" height="7.32" fill="#0000c3"/><rect x="396.92" y="355.28" width="6.81" height="7.32" fill="#000090"/><rect x="403.68" y="355.28" width="6.81" height="7.32" fill="#000090"/><rect x="410.44" y="355.28" width="6.81" height="7.32" fill="#000099"/><rect x="282.00" y="362.55" width="6.81" height="7.32" fill="#0000c3"/><rect x="288.76" y="362.55" width="6.81" height="7.32" fill="#0000bb"/><rect x="295.52" y="362.55" width="6.81" height="7.32" fill="#000099"/><rect x="302.28" y="362.55" width="6.81" height="7.32" fill="#000099"/><rect x="309.04" y="362.55" width="6.81" height="7.32" fill="#0000aa"/><rect x="315.80" y="362.55" width="6.81" height="7.32" fill="#0000ee"/><rect x="322.56" y="362.55" width="6.81" height="7.32" fill="#0000b2"/><rect x="329.32" y="362.55" width="6.81" height="7.32" fill="#0000aa"/><rect x="336.08" y="362.55" width="6.81" height="7.32" fill="#0000c3"/><rect x="342.84" y="362.55" width="6.81" height="7.32" fill="#0000ff"/><rect x="349.60" y="362.55" width="6.81" height="7.32" fill="#0000e5"/><rect x="356.36" y="362.55" width="6.81" height="7.32" fill="#0000ee"/><rect x="363.12" y="362.55" width="6.81" height="7.32" fill="#0000ee"/><rect x="369.88" y="362.55" width="6.81" height="7.32" fill="#0000f6"/><rect x="376.64" y="362.55" width="6.81" height="7.32" fill="#0000b2"/><rect x="383.40" y="362.55" width="6.81" height="7.32" fill="#0000b2"/><rect x="390.16" y="362.55" width="6.81" height="7.32" fill="#0000c3"/><rect x="396.92" y="362.55" width="6.81" height="7.32" fill="#0000aa"/><rect x="403.68" y="362.55" width="6.81" height="7.32" fill="#000099"/><rect x="410.44" y="362.55" width="6.81" height="7.32" fill="#000099"/><rect x="282.00" y="369.82" width="6.81" height="7.32" fill="#0000bb"/><rect x="288.76" y="369.82" width="6.81" height="7.32" fill="#0000e5"/><rect x="295.52" y="369.82" width="6.81" height="7.32" fill="#000099"/><rect x="302.28" y="369.82" width="6.81" height="7.32" fill="#000090"/><rect x="309.04" y="369.82" width="6.81" height="7.32" fill="#000090"/><rect x="315.80" y="369.82" width="6.81" height="7.32" fill="#0000b2"/><rect x="322.56" y="369.82" width="6.81" height="7.32" fill="#0000bb"/><rect x="329.32" y="369.82" width="6.81" height="7.32" fill="#0000d4"/><rect x="336.08" y="369.82" width="6.81" height="7.32" fill="#0000ff"/><rect x="342.84" y="369.82" width="6.81" height="7.32" fill="#0008ff"/><rect x="349.60" y="369.82" width="6.81" height="7.32" fill="#0000f6"/><rect x="356.36" y="369.82" width="6.81" height="7.32" fill="#001aff"/><rect x="363.12" y="369.82" width="6.81" height="7.32" fill="#0011ff"/><rect x="369.88" y="369.82" width="6.81" height="7.32" fill="#0008ff"/><rect x="376.64" y="369.82" width="6.81" height="7.32" fill="#0000d4"/><rect x="383.40" y="369.82" width="6.81" height="7.32" fill="#0000b2"/><rect x="390.16" y="369.82" width="6.81" height="7.32" fill="#0000aa"/><rect x="396.92" y="369.82" width="6.81" height="7.32" fill="#0000d4"/><rect x="403.68" y="369.82" width="6.81" height="7.32" fill="#000099"/><rect x="410.44" y="369.82" width="6.81" height="7.32" fill="#000099"/><rect x="282.00" y="377.09" width="6.81" height="7.32" fill="#000099"/><rect x="288.76" y="377.09" width="6.81" height="7.32" fill="#0000b2"/><rect x="295.52" y="377.09" width="6.81" height="7.32" fill="#000090"/><rect x="302.28" y="377.09" width="6.81" height="7.32" fill="#000090"/><rect x="309.04" y="377.09" width="6.81" height="7.32" fill="#000090"/><rect x="315.80" y="377.09" width="6.81" height="7.32" fill="#0000aa"/><rect x="322.56" y="377.09" width="6.81" height="7.32" fill="#0000ff"/><rect x="329.32" y="377.09" width="6.81" height="7.32" fill="#0015ff"/><rect x="336.08" y="377.09" width="6.81" height="7.32" fill="#0022ff"/><rect x="342.84" y="377.09" width="6.81" height="7.32" fill="#0066ff"/><rect x="349.60" y="377.09" width="6.81" height="7.32" fill="#0088ff"/><rect x="356.36" y="377.09" width="6.81" height="7.32" fill="#0066ff"/><rect x="363.12" y="377.09" width="6.81" height="7.32" fill="#0040ff"/><rect x="369.88" y="377.09" width="6.81" height="7.32" fill="#0040ff"/><rect x="376.64" y="377.09" width="6.81" height="7.32" fill="#0015ff"/><rect x="383.40" y="377.09" width="6.81" height="7.32" fill="#0000b7"/><rect x="390.16" y="377.09" width="6.81" height="7.32" fill="#0000aa"/><rect x="396.92" y="377.09" width="6.81" height="7.32" fill="#0000bb"/><rect x="403.68" y="377.09" width="6.81" height="7.32" fill="#0000a2"/><rect x="410.44" y="377.09" width="6.81" height="7.32" fill="#0000a2"/><rect x="282.00" y="384.36" width="6.81" height="7.32" fill="#000099"/><rect x="288.76" y="384.36" width="6.81" height="7.32" fill="#0000b2"/><rect x="295.52" y="384.36" width="6.81" height="7.32" fill="#0000a2"/><rect x="302.28" y="384.36" width="6.81" height="7.32" fill="#0000e5"/><rect x="309.04" y="384.36" width="6.81" height="7.32" fill="#0000d4"/><rect x="315.80" y="384.36" width="6.81" height="7.32" fill="#0000c3"/><rect x="322.56" y="384.36" width="6.81" height="7.32" fill="#0000ff"/><rect x="329.32" y="384.36" width="6.81" height="7.32" fill="#0040ff"/><rect x="336.08" y="384.36" width="6.81" height="7.32" fill="#0062ff"/><rect x="342.84" y="384.36" width="6.81" height="7.32" fill="#006aff"/><rect x="349.60" y="384.36" width="6.81" height="7.32" fill="#0095ff"/><rect x="356.36" y="384.36" width="6.81" height="7.32" fill="#0095ff"/><rect x="363.12" y="384.36" width="6.81" height="7.32" fill="#0066ff"/><rect x="369.88" y="384.36" width="6.81" height="7.32" fill="#0055ff"/><rect x="376.64" y="384.36" width="6.81" height="7.32" fill="#0033ff"/><rect x="383.40" y="384.36" width="6.81" height="7.32" fill="#0000ff"/><rect x="390.16" y="384.36" width="6.81" height="7.32" fill="#0000d4"/><rect x="396.92" y="384.36" width="6.81" height="7.32" fill="#0000aa"/><rect x="403.68" y="384.36" width="6.81" height="7.32" fill="#0000d4"/><rect x="410.44" y="384.36" width="6.81" height="7.32" fill="#0000aa"/><rect x="282.00" y="391.63" width="6.81" height="7.32" fill="#000099"/><rect x="288.76" y="391.63" width="6.81" height="7.32" fill="#0000aa"/><rect x="295.52" y="391.63" width="6.81" height="7.32" fill="#0000b2"/><rect x="302.28" y="391.63" width="6.81" height="7.32" fill="#0000aa"/><rect x="309.04" y="391.63" width="6.81" height="7.32" fill="#0000b2"/><rect x="315.80" y="391.63" width="6.81" height="7.32" fill="#0008ff"/><rect x="322.56" y="391.63" width="6.81" height="7.32" fill="#0011ff"/><rect x="329.32" y="391.63" width="6.81" height="7.32" fill="#004cff"/><rect x="336.08" y="391.63" width="6.81" height="7.32" fill="#005eff"/><rect x="342.84" y="391.63" width="6.81" height="7.32" fill="#006aff"/><rect x="349.60" y="391.63" width="6.81" height="7.32" fill="#0088ff"/><rect x="356.36" y="391.63" width="6.81" height="7.32" fill="#0073ff"/><rect x="363.12" y="391.63" width="6.81" height="7.32" fill="#0073ff"/><rect x="369.88" y="391.63" width="6.81" height="7.32" fill="#0055ff"/><rect x="376.64" y="391.63" width="6.81" height="7.32" fill="#0040ff"/><rect x="383.40" y="391.63" width="6.81" height="7.32" fill="#0002ff"/><rect x="390.16" y="391.63" width="6.81" height="7.32" fill="#0000c3"/><rect x="396.92" y="391.63" width="6.81" height="7.32" fill="#0000bb"/><rect x="403.68" y="391.63" width="6.81" height="7.32" fill="#0000c3"/><rect x="410.44" y="391.63" width="6.81" height="7.32" fill="#0000a2"/><rect x="282.00" y="398.90" width="6.81" height="7.32" fill="#000099"/><rect x="288.76" y="398.90" width="6.81" height="7.32" fill="#0000a2"/><rect x="295.52" y="398.90" width="6.81" height="7.32" fill="#0000b2"/><rect x="302.28" y="398.90" width="6.81" height="7.32" fill="#0000bb"/><rect x="309.04" y="398.90" width="6.81" height="7.32" fill="#0000d4"/><rect x="315.80" y="398.90" width="6.81" height="7.32" fill="#0000ee"/><rect x="322.56" y="398.90" width="6.81" height="7.32" fill="#0000f6"/><rect x="329.32" y="398.90" width="6.81" height="7.32" fill="#0037ff"/><rect x="336.08" y="398.90" width="6.81" height="7.32" fill="#006eff"/><rect x="342.84" y="398.90" width="6.81" height="7.32" fill="#0080ff"/><rect x="349.60" y="398.90" width="6.81" height="7.32" fill="#0095ff"/><rect x="356.36" y="398.90" width="6.81" height="7.32" fill="#0090ff"/><rect x="363.12" y="398.90" width="6.81" height="7.32" fill="#00c3ff"/><rect x="369.88" y="398.90" width="6.81" height="7.32" fill="#00aaff"/><rect x="376.64" y="398.90" width="6.81" height="7.32" fill="#005eff"/><rect x="383.40" y="398.90" width="6.81" height="7.32" fill="#0002ff"/><rect x="390.16" y="398.90" width="6.81" height="7.32" fill="#0000c3"/><rect x="396.92" y="398.90" width="6.81" height="7.32" fill="#0000b2"/><rect x="403.68" y="398.90" width="6.81" height="7.32" fill="#0000a2"/><rect x="410.44" y="398.90" width="6.81" height="7.32" fill="#000099"/><rect x="282.00" y="406.17" width="6.81" height="7.32" fill="#000099"/><rect x="288.76" y="406.17" width="6.81" height="7.32" fill="#000099"/><rect x="295.52" y="406.17" width="6.81" height="7.32" fill="#0000cc"/><rect x="302.28" y="406.17" width="6.81" height="7.32" fill="#0000b2"/><rect x="309.04" y="406.17" width="6.81" height="7.32" fill="#0000aa"/><rect x="315.80" y="406.17" width="6.81" height="7.32" fill="#0000e5"/><rect x="322.56" y="406.17" width="6.81" height="7.32" fill="#0000f6"/><rect x="329.32" y="406.17" width="6.81" height="7.32" fill="#0044ff"/><rect x="336.08" y="406.17" width="6.81" height="7.32" fill="#0080ff"/><rect x="342.84" y="406.17" width="6.81" height="7.32" fill="#0088ff"/><rect x="349.60" y="406.17" width="6.81" height="7.32" fill="#0084ff"/><rect x="356.36" y="406.17" width="6.81" height="7.32" fill="#0088ff"/><rect x="363.12" y="406.17" width="6.81" height="7.32" fill="#0099ff"/><rect x="369.88" y="406.17" width="6.81" height="7.32" fill="#0084ff"/><rect x="376.64" y="406.17" width="6.81" height="7.32" fill="#0066ff"/><rect x="383.40" y="406.17" width="6.81" height="7.32" fill="#0026ff"/><rect x="390.16" y="406.17" width="6.81" height="7.32" fill="#0000d4"/><rect x="396.92" y="406.17" width="6.81" height="7.32" fill="#0000aa"/><rect x="403.68" y="406.17" width="6.81" height="7.32" fill="#0000a2"/><rect x="410.44" y="406.17" width="6.81" height="7.32" fill="#000099"/><rect x="282.00" y="413.44" width="6.81" height="7.32" fill="#0000cc"/><rect x="288.76" y="413.44" width="6.81" height="7.32" fill="#000099"/><rect x="295.52" y="413.44" width="6.81" height="7.32" fill="#000090"/><rect x="302.28" y="413.44" width="6.81" height="7.32" fill="#000090"/><rect x="309.04" y="413.44" width="6.81" height="7.32" fill="#000099"/><rect x="315.80" y="413.44" width="6.81" height="7.32" fill="#0000bb"/><rect x="322.56" y="413.44" width="6.81" height="7.32" fill="#0000cc"/><rect x="329.32" y="413.44" width="6.81" height="7.32" fill="#003cff"/><rect x="336.08" y="413.44" width="6.81" height="7.32" fill="#005eff"/><rect x="342.84" y="413.44" width="6.81" height="7.32" fill="#0044ff"/><rect x="349.60" y="413.44" width="6.81" height="7.32" fill="#007bff"/><rect x="356.36" y="413.44" width="6.81" height="7.32" fill="#0095ff"/><rect x="363.12" y="413.44" width="6.81" height="7.32" fill="#0062ff"/><rect x="369.88" y="413.44" width="6.81" height="7.32" fill="#004cff"/><rect x="376.64" y="413.44" width="6.81" height="7.32" fill="#0044ff"/><rect x="383.40" y="413.44" width="6.81" height="7.32" fill="#0011ff"/><rect x="390.16" y="413.44" width="6.81" height="7.32" fill="#0000cc"/><rect x="396.92" y="413.44" width="6.81" height="7.32" fill="#0000a2"/><rect x="403.68" y="413.44" width="6.81" height="7.32" fill="#0000a2"/><rect x="410.44" y="413.44" width="6.81" height="7.32" fill="#000099"/><rect x="282.00" y="420.71" width="6.81" height="7.32" fill="#0000d4"/><rect x="288.76" y="420.71" width="6.81" height="7.32" fill="#0000b2"/><rect x="295.52" y="420.71" width="6.81" height="7.32" fill="#000099"/><rect x="302.28" y="420.71" width="6.81" height="7.32" fill="#000099"/><rect x="309.04" y="420.71" width="6.81" height="7.32" fill="#000099"/><rect x="315.80" y="420.71" width="6.81" height="7.32" fill="#0000c3"/><rect x="322.56" y="420.71" width="6.81" height="7.32" fill="#0000bb"/><rect x="329.32" y="420.71" width="6.81" height="7.32" fill="#0022ff"/><rect x="336.08" y="420.71" width="6.81" height="7.32" fill="#0033ff"/><rect x="342.84" y="420.71" width="6.81" height="7.32" fill="#0033ff"/><rect x="349.60" y="420.71" width="6.81" height="7.32" fill="#004cff"/><rect x="356.36" y="420.71" width="6.81" height="7.32" fill="#0044ff"/><rect x="363.12" y="420.71" width="6.81" height="7.32" fill="#0033ff"/><rect x="369.88" y="420.71" width="6.81" height="7.32" fill="#001aff"/><rect x="376.64" y="420.71" width="6.81" height="7.32" fill="#002aff"/><rect x="383.40" y="420.71" width="6.81" height="7.32" fill="#0007ff"/><rect x="390.16" y="420.71" width="6.81" height="7.32" fill="#0000cc"/><rect x="396.92" y="420.71" width="6.81" height="7.32" fill="#0000bb"/><rect x="403.68" y="420.71" width="6.81" height="7.32" fill="#0000cc"/><rect x="410.44" y="420.71" width="6.81" height="7.32" fill="#000099"/><rect x="282.00" y="427.98" width="6.81" height="7.32" fill="#000099"/><rect x="288.76" y="427.98" width="6.81" height="7.32" fill="#0000b2"/><rect x="295.52" y="427.98" width="6.81" height="7.32" fill="#0000bb"/><rect x="302.28" y="427.98" width="6.81" height="7.32" fill="#0000a2"/><rect x="309.04" y="427.98" width="6.81" height="7.32" fill="#0000bb"/><rect x="315.80" y="427.98" width="6.81" height="7.32" fill="#0000bb"/><rect x="322.56" y="427.98" width="6.81" height="7.32" fill="#0000b2"/><rect x="329.32" y="427.98" width="6.81" height="7.32" fill="#0000bb"/><rect x="336.08" y="427.98" width="6.81" height="7.32" fill="#0000ff"/><rect x="342.84" y="427.98" width="6.81" height="7.32" fill="#003cff"/><rect x="349.60" y="427.98" width="6.81" height="7.32" fill="#001aff"/><rect x="356.36" y="427.98" width="6.81" height="7.32" fill="#002aff"/><rect x="363.12" y="427.98" width="6.81" height="7.32" fill="#0011ff"/><rect x="369.88" y="427.98" width="6.81" height="7.32" fill="#0000ff"/><rect x="376.64" y="427.98" width="6.81" height="7.32" fill="#0000e5"/><rect x="383.40" y="427.98" width="6.81" height="7.32" fill="#0000d4"/><rect x="390.16" y="427.98" width="6.81" height="7.32" fill="#0000bb"/><rect x="396.92" y="427.98" width="6.81" height="7.32" fill="#0000b2"/><rect x="403.68" y="427.98" width="6.81" height="7.32" fill="#0000aa"/><rect x="410.44" y="427.98" width="6.81" height="7.32" fill="#000099"/><rect x="282.00" y="435.25" width="6.81" height="7.32" fill="#0000b2"/><rect x="288.76" y="435.25" width="6.81" height="7.32" fill="#0000ee"/><rect x="295.52" y="435.25" width="6.81" height="7.32" fill="#0000c3"/><rect x="302.28" y="435.25" width="6.81" height="7.32" fill="#0000b2"/><rect x="309.04" y="435.25" width="6.81" height="7.32" fill="#0000d4"/><rect x="315.80" y="435.25" width="6.81" height="7.32" fill="#0000b2"/><rect x="322.56" y="435.25" width="6.81" height="7.32" fill="#0000a2"/><rect x="329.32" y="435.25" width="6.81" height="7.32" fill="#0000aa"/><rect x="336.08" y="435.25" width="6.81" height="7.32" fill="#0000d4"/><rect x="342.84" y="435.25" width="6.81" height="7.32" fill="#0000dd"/><rect x="349.60" y="435.25" width="6.81" height="7.32" fill="#0000f6"/><rect x="356.36" y="435.25" width="6.81" height="7.32" fill="#0000f6"/><rect x="363.12" y="435.25" width="6.81" height="7.32" fill="#0000f6"/><rect x="369.88" y="435.25" width="6.81" height="7.32" fill="#0000ff"/><rect x="376.64" y="435.25" width="6.81" height="7.32" fill="#0000e5"/><rect x="383.40" y="435.25" width="6.81" height="7.32" fill="#0000bb"/><rect x="390.16" y="435.25" width="6.81" height="7.32" fill="#000099"/><rect x="396.92" y="435.25" width="6.81" height="7.32" fill="#000099"/><rect x="403.68" y="435.25" width="6.81" height="7.32" fill="#0000c3"/><rect x="410.44" y="435.25" width="6.81" height="7.32" fill="#0000c3"/><rect x="282.00" y="442.52" width="6.81" height="7.32" fill="#0000bb"/><rect x="288.76" y="442.52" width="6.81" height="7.32" fill="#0000e5"/><rect x="295.52" y="442.52" width="6.81" height="7.32" fill="#0000d4"/><rect x="302.28" y="442.52" width="6.81" height="7.32" fill="#000099"/><rect x="309.04" y="442.52" width="6.81" height="7.32" fill="#0000d4"/><rect x="315.80" y="442.52" width="6.81" height="7.32" fill="#0000bb"/><rect x="322.56" y="442.52" width="6.81" height="7.32" fill="#000099"/><rect x="329.32" y="442.52" width="6.81" height="7.32" fill="#000099"/><rect x="336.08" y="442.52" width="6.81" height="7.32" fill="#0000cc"/><rect x="342.84" y="442.52" width="6.81" height="7.32" fill="#0000d4"/><rect x="349.60" y="442.52" width="6.81" height="7.32" fill="#0000e5"/><rect x="356.36" y="442.52" width="6.81" height="7.32" fill="#0000e5"/><rect x="363.12" y="442.52" width="6.81" height="7.32" fill="#0000c3"/><rect x="369.88" y="442.52" width="6.81" height="7.32" fill="#0000c3"/><rect x="376.64" y="442.52" width="6.81" height="7.32" fill="#0000d4"/><rect x="383.40" y="442.52" width="6.81" height="7.32" fill="#0000bb"/><rect x="390.16" y="442.52" width="6.81" height="7.32" fill="#000099"/><rect x="396.92" y="442.52" width="6.81" height="7.32" fill="#0000aa"/><rect x="403.68" y="442.52" width="6.81" height="7.32" fill="#0000c3"/><rect x="410.44" y="442.52" width="6.81" height="7.32" fill="#0000ee"/><rect x="282.00" y="449.79" width="6.81" height="7.32" fill="#0000ee"/><rect x="288.76" y="449.79" width="6.81" height="7.32" fill="#0000bb"/><rect x="295.52" y="449.79" width="6.81" height="7.32" fill="#000099"/><rect x="302.28" y="449.79" width="6.81" height="7.32" fill="#000099"/><rect x="309.04" y="449.79" width="6.81" height="7.32" fill="#0000aa"/><rect x="315.80" y="449.79" width="6.81" height="7.32" fill="#0000bb"/><rect x="322.56" y="449.79" width="6.81" height="7.32" fill="#0000e5"/><rect x="329.32" y="449.79" width="6.81" height="7.32" fill="#0000d4"/><rect x="336.08" y="449.79" width="6.81" height="7.32" fill="#0000c3"/><rect x="342.84" y="449.79" width="6.81" height="7.32" fill="#0000dd"/><rect x="349.60" y="449.79" width="6.81" height="7.32" fill="#0000ee"/><rect x="356.36" y="449.79" width="6.81" height="7.32" fill="#0000d4"/><rect x="363.12" y="449.79" width="6.81" height="7.32" fill="#0000bb"/><rect x="369.88" y="449.79" width="6.81" height="7.32" fill="#0000b2"/><rect x="376.64" y="449.79" width="6.81" height="7.32" fill="#0000c3"/><rect x="383.40" y="449.79" width="6.81" height="7.32" fill="#0000b2"/><rect x="390.16" y="449.79" width="6.81" height="7.32" fill="#0000a2"/><rect x="396.92" y="449.79" width="6.81" height="7.32" fill="#0000bb"/><rect x="403.68" y="449.79" width="6.81" height="7.32" fill="#0000a2"/><rect x="410.44" y="449.79" width="6.81" height="7.32" fill="#0000a2"/><rect x="282.00" y="457.06" width="6.81" height="7.32" fill="#0000aa"/><rect x="288.76" y="457.06" width="6.81" height="7.32" fill="#0000a2"/><rect x="295.52" y="457.06" width="6.81" height="7.32" fill="#000099"/><rect x="302.28" y="457.06" width="6.81" height="7.32" fill="#0000aa"/><rect x="309.04" y="457.06" width="6.81" height="7.32" fill="#0000a2"/><rect x="315.80" y="457.06" width="6.81" height="7.32" fill="#0000aa"/><rect x="322.56" y="457.06" width="6.81" height="7.32" fill="#0000bb"/><rect x="329.32" y="457.06" width="6.81" height="7.32" fill="#0000e5"/><rect x="336.08" y="457.06" width="6.81" height="7.32" fill="#0000d4"/><rect x="342.84" y="457.06" width="6.81" height="7.32" fill="#0000ee"/><rect x="349.60" y="457.06" width="6.81" height="7.32" fill="#0000d4"/><rect x="356.36" y="457.06" width="6.81" height="7.32" fill="#0000b2"/><rect x="363.12" y="457.06" width="6.81" height="7.32" fill="#0000b2"/><rect x="369.88" y="457.06" width="6.81" height="7.32" fill="#0000bb"/><rect x="376.64" y="457.06" width="6.81" height="7.32" fill="#0000e5"/><rect x="383.40" y="457.06" width="6.81" height="7.32" fill="#0000b2"/><rect x="390.16" y="457.06" width="6.81" height="7.32" fill="#0000a2"/><rect x="396.92" y="457.06" width="6.81" height="7.32" fill="#0000a2"/><rect x="403.68" y="457.06" width="6.81" height="7.32" fill="#0000aa"/><rect x="410.44" y="457.06" width="6.81" height="7.32" fill="#0000a2"/><rect x="282.00" y="464.33" width="6.81" height="7.32" fill="#0000a2"/><rect x="288.76" y="464.33" width="6.81" height="7.32" fill="#0000a2"/><rect x="295.52" y="464.33" width="6.81" height="7.32" fill="#0000a2"/><rect x="302.28" y="464.33" width="6.81" height="7.32" fill="#0000aa"/><rect x="309.04" y="464.33" width="6.81" height="7.32" fill="#0000aa"/><rect x="315.80" y="464.33" width="6.81" height="7.32" fill="#0000a2"/><rect x="322.56" y="464.33" width="6.81" height="7.32" fill="#0000bb"/><rect x="329.32" y="464.33" width="6.81" height="7.32" fill="#0000aa"/><rect x="336.08" y="464.33" width="6.81" height="7.32" fill="#000099"/><rect x="342.84" y="464.33" width="6.81" height="7.32" fill="#0000bb"/><rect x="349.60" y="464.33" width="6.81" height="7.32" fill="#0000cc"/><rect x="356.36" y="464.33" width="6.81" height="7.32" fill="#0000cc"/><rect x="363.12" y="464.33" width="6.81" height="7.32" fill="#0000bb"/><rect x="369.88" y="464.33" width="6.81" height="7.32" fill="#0000a2"/><rect x="376.64" y="464.33" width="6.81" height="7.32" fill="#0000b2"/><rect x="383.40" y="464.33" width="6.81" height="7.32" fill="#0000aa"/><rect x="390.16" y="464.33" width="6.81" height="7.32" fill="#0000a2"/><rect x="396.92" y="464.33" width="6.81" height="7.32" fill="#0000a2"/><rect x="403.68" y="464.33" width="6.81" height="7.32" fill="#0000a2"/><rect x="410.44" y="464.33" width="6.81" height="7.32" fill="#000099"/></g>
<rect x="282.35" y="326.55" width="134.50" height="144.70" fill="none" stroke="#14143a" stroke-width="0.7"/>
<g shape-rendering="crispEdges"><rect x="506.20" y="326.20" width="6.81" height="7.32" fill="#000099"/><rect x="512.96" y="326.20" width="6.81" height="7.32" fill="#000099"/><rect x="519.72" y="326.20" width="6.81" height="7.32" fill="#000099"/><rect x="526.48" y="326.20" width="6.81" height="7.32" fill="#000099"/><rect x="533.24" y="326.20" width="6.81" height="7.32" fill="#000099"/><rect x="540.00" y="326.20" width="6.81" height="7.32" fill="#000099"/><rect x="546.76" y="326.20" width="6.81" height="7.32" fill="#000099"/><rect x="553.52" y="326.20" width="6.81" height="7.32" fill="#0000d4"/><rect x="560.28" y="326.20" width="6.81" height="7.32" fill="#0000bb"/><rect x="567.04" y="326.20" width="6.81" height="7.32" fill="#0000a2"/><rect x="573.80" y="326.20" width="6.81" height="7.32" fill="#0000a2"/><rect x="580.56" y="326.20" width="6.81" height="7.32" fill="#000099"/><rect x="587.32" y="326.20" width="6.81" height="7.32" fill="#000099"/><rect x="594.08" y="326.20" width="6.81" height="7.32" fill="#000099"/><rect x="600.84" y="326.20" width="6.81" height="7.32" fill="#000099"/><rect x="607.60" y="326.20" width="6.81" height="7.32" fill="#000099"/><rect x="614.36" y="326.20" width="6.81" height="7.32" fill="#000099"/><rect x="621.12" y="326.20" width="6.81" height="7.32" fill="#000099"/><rect x="627.88" y="326.20" width="6.81" height="7.32" fill="#0000b2"/><rect x="634.64" y="326.20" width="6.81" height="7.32" fill="#0000a2"/><rect x="506.20" y="333.47" width="6.81" height="7.32" fill="#000099"/><rect x="512.96" y="333.47" width="6.81" height="7.32" fill="#000099"/><rect x="519.72" y="333.47" width="6.81" height="7.32" fill="#000099"/><rect x="526.48" y="333.47" width="6.81" height="7.32" fill="#000099"/><rect x="533.24" y="333.47" width="6.81" height="7.32" fill="#000099"/><rect x="540.00" y="333.47" width="6.81" height="7.32" fill="#0000b2"/><rect x="546.76" y="333.47" width="6.81" height="7.32" fill="#0000b2"/><rect x="553.52" y="333.47" width="6.81" height="7.32" fill="#0000b2"/><rect x="560.28" y="333.47" width="6.81" height="7.32" fill="#000090"/><rect x="567.04" y="333.47" width="6.81" height="7.32" fill="#0000ab"/><rect x="573.80" y="333.47" width="6.81" height="7.32" fill="#0000c4"/><rect x="580.56" y="333.47" width="6.81" height="7.32" fill="#0000b3"/><rect x="587.32" y="333.47" width="6.81" height="7.32" fill="#0000ab"/><rect x="594.08" y="333.47" width="6.81" height="7.32" fill="#00009a"/><rect x="600.84" y="333.47" width="6.81" height="7.32" fill="#000099"/><rect x="607.60" y="333.47" width="6.81" height="7.32" fill="#000099"/><rect x="614.36" y="333.47" width="6.81" height="7.32" fill="#000099"/><rect x="621.12" y="333.47" width="6.81" height="7.32" fill="#000099"/><rect x="627.88" y="333.47" width="6.81" height="7.32" fill="#0000bb"/><rect x="634.64" y="333.47" width="6.81" height="7.32" fill="#000099"/><rect x="506.20" y="340.74" width="6.81" height="7.32" fill="#000099"/><rect x="512.96" y="340.74" width="6.81" height="7.32" fill="#0000d4"/><rect x="519.72" y="340.74" width="6.81" height="7.32" fill="#0000a2"/><rect x="526.48" y="340.74" width="6.81" height="7.32" fill="#0000bb"/><rect x="533.24" y="340.74" width="6.81" height="7.32" fill="#0000d4"/><rect x="540.00" y="340.74" width="6.81" height="7.32" fill="#0000bb"/><rect x="546.76" y="340.74" width="6.81" height="7.32" fill="#0000d4"/><rect x="553.52" y="340.74" width="6.81" height="7.32" fill="#0000c4"/><rect x="560.28" y="340.74" width="6.81" height="7.32" fill="#000091"/><rect x="567.04" y="340.74" width="6.81" height="7.32" fill="#0000ef"/><rect x="573.80" y="340.74" width="6.81" height="7.32" fill="#0000cd"/><rect x="580.56" y="340.74" width="6.81" height="7.32" fill="#0000c5"/><rect x="587.32" y="340.74" width="6.81" height="7.32" fill="#0000b3"/><rect x="594.08" y="340.74" width="6.81" height="7.32" fill="#00009a"/><rect x="600.84" y="340.74" width="6.81" height="7.32" fill="#0000bc"/><rect x="607.60" y="340.74" width="6.81" height="7.32" fill="#0000d5"/><rect x="614.36" y="340.74" width="6.81" height="7.32" fill="#0000aa"/><rect x="621.12" y="340.74" width="6.81" height="7.32" fill="#0000c3"/><rect x="627.88" y="340.74" width="6.81" height="7.32" fill="#0000b2"/><rect x="634.64" y="340.74" width="6.81" height="7.32" fill="#000099"/><rect x="506.20" y="348.01" width="6.81" height="7.32" fill="#000099"/><rect x="512.96" y="348.01" width="6.81" height="7.32" fill="#0000b2"/><rect x="519.72" y="348.01" width="6.81" height="7.32" fill="#0000b2"/><rect x="526.48" y="348.01" width="6.81" height="7.32" fill="#0000d4"/><rect x="533.24" y="348.01" width="6.81" height="7.32" fill="#0000d4"/><rect x="540.00" y="348.01" width="6.81" height="7.32" fill="#0000d4"/><rect x="546.76" y="348.01" width="6.81" height="7.32" fill="#00009a"/><rect x="553.52" y="348.01" width="6.81" height="7.32" fill="#0000d5"/><rect x="560.28" y="348.01" width="6.81" height="7.32" fill="#0000f8"/><rect x="567.04" y="348.01" width="6.81" height="7.32" fill="#0000f9"/><rect x="573.80" y="348.01" width="6.81" height="7.32" fill="#0000d7"/><rect x="580.56" y="348.01" width="6.81" height="7.32" fill="#0000e0"/><rect x="587.32" y="348.01" width="6.81" height="7.32" fill="#0000e8"/><rect x="594.08" y="348.01" width="6.81" height="7.32" fill="#0000be"/><rect x="600.84" y="348.01" width="6.81" height="7.32" fill="#000092"/><rect x="607.60" y="348.01" width="6.81" height="7.32" fill="#0000c4"/><rect x="614.36" y="348.01" width="6.81" height="7.32" fill="#0000b3"/><rect x="621.12" y="348.01" width="6.81" height="7.32" fill="#0000a2"/><rect x="627.88" y="348.01" width="6.81" height="7.32" fill="#0000b2"/><rect x="634.64" y="348.01" width="6.81" height="7.32" fill="#000099"/><rect x="506.20" y="355.28" width="6.81" height="7.32" fill="#0000aa"/><rect x="512.96" y="355.28" width="6.81" height="7.32" fill="#000099"/><rect x="519.72" y="355.28" width="6.81" height="7.32" fill="#000099"/><rect x="526.48" y="355.28" width="6.81" height="7.32" fill="#000099"/><rect x="533.24" y="355.28" width="6.81" height="7.32" fill="#0000c3"/><rect x="540.00" y="355.28" width="6.81" height="7.32" fill="#0000a2"/><rect x="546.76" y="355.28" width="6.81" height="7.32" fill="#00009b"/><rect x="553.52" y="355.28" width="6.81" height="7.32" fill="#0000b5"/><rect x="560.28" y="355.28" width="6.81" height="7.32" fill="#0000fa"/><rect x="567.04" y="355.28" width="6.81" height="7.32" fill="#0000fb"/><rect x="573.80" y="355.28" width="6.81" height="7.32" fill="#0000f3"/><rect x="580.56" y="355.28" width="6.81" height="7.32" fill="#0000eb"/><rect x="587.32" y="355.28" width="6.81" height="7.32" fill="#0000e2"/><rect x="594.08" y="355.28" width="6.81" height="7.32" fill="#0000bf"/><rect x="600.84" y="355.28" width="6.81" height="7.32" fill="#0000a5"/><rect x="607.60" y="355.28" width="6.81" height="7.32" fill="#0000cf"/><rect x="614.36" y="355.28" width="6.81" height="7.32" fill="#0000ce"/><rect x="621.12" y="355.28" width="6.81" height="7.32" fill="#0000c4"/><rect x="627.88" y="355.28" width="6.81" height="7.32" fill="#0000aa"/><rect x="634.64" y="355.28" width="6.81" height="7.32" fill="#000099"/><rect x="506.20" y="362.55" width="6.81" height="7.32" fill="#0000c3"/><rect x="512.96" y="362.55" width="6.81" height="7.32" fill="#0000aa"/><rect x="519.72" y="362.55" width="6.81" height="7.32" fill="#0000b2"/><rect x="526.48" y="362.55" width="6.81" height="7.32" fill="#000099"/><rect x="533.24" y="362.55" width="6.81" height="7.32" fill="#000091"/><rect x="540.00" y="362.55" width="6.81" height="7.32" fill="#0000b4"/><rect x="546.76" y="362.55" width="6.81" height="7.32" fill="#0000b5"/><rect x="553.52" y="362.55" width="6.81" height="7.32" fill="#0000b7"/><rect x="560.28" y="362.55" width="6.81" height="7.32" fill="#0000c9"/><rect x="567.04" y="362.55" width="6.81" height="7.32" fill="#0000dc"/><rect x="573.80" y="362.55" width="6.81" height="7.32" fill="#0000f7"/><rect x="580.56" y="362.55" width="6.81" height="7.32" fill="#0000ef"/><rect x="587.32" y="362.55" width="6.81" height="7.32" fill="#0000de"/><rect x="594.08" y="362.55" width="6.81" height="7.32" fill="#0000ba"/><rect x="600.84" y="362.55" width="6.81" height="7.32" fill="#0000c1"/><rect x="607.60" y="362.55" width="6.81" height="7.32" fill="#0000c8"/><rect x="614.36" y="362.55" width="6.81" height="7.32" fill="#0000cf"/><rect x="621.12" y="362.55" width="6.81" height="7.32" fill="#0000b4"/><rect x="627.88" y="362.55" width="6.81" height="7.32" fill="#000091"/><rect x="634.64" y="362.55" width="6.81" height="7.32" fill="#000099"/><rect x="506.20" y="369.82" width="6.81" height="7.32" fill="#0000cc"/><rect x="512.96" y="369.82" width="6.81" height="7.32" fill="#0000cc"/><rect x="519.72" y="369.82" width="6.81" height="7.32" fill="#0000cc"/><rect x="526.48" y="369.82" width="6.81" height="7.32" fill="#0000a2"/><rect x="533.24" y="369.82" width="6.81" height="7.32" fill="#00009a"/><rect x="540.00" y="369.82" width="6.81" height="7.32" fill="#0000f0"/><rect x="546.76" y="369.82" width="6.81" height="7.32" fill="#0000be"/><rect x="553.52" y="369.82" width="6.81" height="7.32" fill="#0000eb"/><rect x="560.28" y="369.82" width="6.81" height="7.32" fill="#0000ef"/><rect x="567.04" y="369.82" width="6.81" height="7.32" fill="#0000fa"/><rect x="573.80" y="369.82" width="6.81" height="7.32" fill="#0028ff"/><rect x="580.56" y="369.82" width="6.81" height="7.32" fill="#000fff"/><rect x="587.32" y="369.82" width="6.81" height="7.32" fill="#0000f4"/><rect x="594.08" y="369.82" width="6.81" height="7.32" fill="#0000fa"/><rect x="600.84" y="369.82" width="6.81" height="7.32" fill="#0001ff"/><rect x="607.60" y="369.82" width="6.81" height="7.32" fill="#0000c9"/><rect x="614.36" y="369.82" width="6.81" height="7.32" fill="#0000b6"/><rect x="621.12" y="369.82" width="6.81" height="7.32" fill="#0000a3"/><rect x="627.88" y="369.82" width="6.81" height="7.32" fill="#000091"/><rect x="634.64" y="369.82" width="6.81" height="7.32" fill="#00009a"/><rect x="506.20" y="377.09" width="6.81" height="7.32" fill="#0000aa"/><rect x="512.96" y="377.09" width="6.81" height="7.32" fill="#0000b2"/><rect x="519.72" y="377.09" width="6.81" height="7.32" fill="#0000b2"/><rect x="526.48" y="377.09" width="6.81" height="7.32" fill="#00009a"/><rect x="533.24" y="377.09" width="6.81" height="7.32" fill="#0000a3"/><rect x="540.00" y="377.09" width="6.81" height="7.32" fill="#0000be"/><rect x="546.76" y="377.09" width="6.81" height="7.32" fill="#0000c0"/><rect x="553.52" y="377.09" width="6.81" height="7.32" fill="#0000ee"/><rect x="560.28" y="377.09" width="6.81" height="7.32" fill="#0000fb"/><rect x="567.04" y="377.09" width="6.81" height="7.32" fill="#002aff"/><rect x="573.80" y="377.09" width="6.81" height="7.32" fill="#002dff"/><rect x="580.56" y="377.09" width="6.81" height="7.32" fill="#0037ff"/><rect x="587.32" y="377.09" width="6.81" height="7.32" fill="#004cff"/><rect x="594.08" y="377.09" width="6.81" height="7.32" fill="#004cff"/><rect x="600.84" y="377.09" width="6.81" height="7.32" fill="#0000f2"/><rect x="607.60" y="377.09" width="6.81" height="7.32" fill="#0000d4"/><rect x="614.36" y="377.09" width="6.81" height="7.32" fill="#0000b8"/><rect x="621.12" y="377.09" width="6.81" height="7.32" fill="#0000b5"/><rect x="627.88" y="377.09" width="6.81" height="7.32" fill="#00009b"/><rect x="634.64" y="377.09" width="6.81" height="7.32" fill="#00009a"/><rect x="506.20" y="384.36" width="6.81" height="7.32" fill="#0000aa"/><rect x="512.96" y="384.36" width="6.81" height="7.32" fill="#0000bb"/><rect x="519.72" y="384.36" width="6.81" height="7.32" fill="#0000b2"/><rect x="526.48" y="384.36" width="6.81" height="7.32" fill="#0000bc"/><rect x="533.24" y="384.36" width="6.81" height="7.32" fill="#0000e7"/><rect x="540.00" y="384.36" width="6.81" height="7.32" fill="#0003ff"/><rect x="546.76" y="384.36" width="6.81" height="7.32" fill="#0018ff"/><rect x="553.52" y="384.36" width="6.81" height="7.32" fill="#0000f9"/><rect x="560.28" y="384.36" width="6.81" height="7.32" fill="#0000cb"/><rect x="567.04" y="384.36" width="6.81" height="7.32" fill="#0026ff"/><rect x="573.80" y="384.36" width="6.81" height="7.32" fill="#0043ff"/><rect x="580.56" y="384.36" width="6.81" height="7.32" fill="#0066ff"/><rect x="587.32" y="384.36" width="6.81" height="7.32" fill="#0066ff"/><rect x="594.08" y="384.36" width="6.81" height="7.32" fill="#000dff"/><rect x="600.84" y="384.36" width="6.81" height="7.32" fill="#0000e5"/><rect x="607.60" y="384.36" width="6.81" height="7.32" fill="#0000d7"/><rect x="614.36" y="384.36" width="6.81" height="7.32" fill="#0000b9"/><rect x="621.12" y="384.36" width="6.81" height="7.32" fill="#0000b6"/><rect x="627.88" y="384.36" width="6.81" height="7.32" fill="#0000a3"/><rect x="634.64" y="384.36" width="6.81" height="7.32" fill="#0000a2"/><rect x="506.20" y="391.63" width="6.81" height="7.32" fill="#0000a2"/><rect x="512.96" y="391.63" width="6.81" height="7.32" fill="#0000a2"/><rect x="519.72" y="391.63" width="6.81" height="7.32" fill="#0000b2"/><rect x="526.48" y="391.63" width="6.81" height="7.32" fill="#00009a"/><rect x="533.24" y="391.63" width="6.81" height="7.32" fill="#0000c5"/><rect x="540.00" y="391.63" width="6.81" height="7.32" fill="#0000fb"/><rect x="546.76" y="391.63" width="6.81" height="7.32" fill="#0000ed"/><rect x="553.52" y="391.63" width="6.81" height="7.32" fill="#0003ff"/><rect x="560.28" y="391.63" width="6.81" height="7.32" fill="#002bff"/><rect x="567.04" y="391.63" width="6.81" height="7.32" fill="#0000fd"/><rect x="573.80" y="391.63" width="6.81" height="7.32" fill="#004fff"/><rect x="580.56" y="391.63" width="6.81" height="7.32" fill="#0066ff"/><rect x="587.32" y="391.63" width="6.81" height="7.32" fill="#005eff"/><rect x="594.08" y="391.63" width="6.81" height="7.32" fill="#0007ff"/><rect x="600.84" y="391.63" width="6.81" height="7.32" fill="#0001ff"/><rect x="607.60" y="391.63" width="6.81" height="7.32" fill="#0000d8"/><rect x="614.36" y="391.63" width="6.81" height="7.32" fill="#0000cb"/><rect x="621.12" y="391.63" width="6.81" height="7.32" fill="#0000ae"/><rect x="627.88" y="391.63" width="6.81" height="7.32" fill="#0000a3"/><rect x="634.64" y="391.63" width="6.81" height="7.32" fill="#00009a"/><rect x="506.20" y="398.90" width="6.81" height="7.32" fill="#000099"/><rect x="512.96" y="398.90" width="6.81" height="7.32" fill="#0000aa"/><rect x="519.72" y="398.90" width="6.81" height="7.32" fill="#0000b2"/><rect x="526.48" y="398.90" width="6.81" height="7.32" fill="#0000ab"/><rect x="533.24" y="398.90" width="6.81" height="7.32" fill="#0000b4"/><rect x="540.00" y="398.90" width="6.81" height="7.32" fill="#0000d9"/><rect x="546.76" y="398.90" width="6.81" height="7.32" fill="#0000fe"/><rect x="553.52" y="398.90" width="6.81" height="7.32" fill="#0003ff"/><rect x="560.28" y="398.90" width="6.81" height="7.32" fill="#003cff"/><rect x="567.04" y="398.90" width="6.81" height="7.32" fill="#005cff"/><rect x="573.80" y="398.90" width="6.81" height="7.32" fill="#0060ff"/><rect x="580.56" y="398.90" width="6.81" height="7.32" fill="#0088ff"/><rect x="587.32" y="398.90" width="6.81" height="7.32" fill="#0060ff"/><rect x="594.08" y="398.90" width="6.81" height="7.32" fill="#0020ff"/><rect x="600.84" y="398.90" width="6.81" height="7.32" fill="#0009ff"/><rect x="607.60" y="398.90" width="6.81" height="7.32" fill="#0000e9"/><rect x="614.36" y="398.90" width="6.81" height="7.32" fill="#0000dc"/><rect x="621.12" y="398.90" width="6.81" height="7.32" fill="#0000d0"/><rect x="627.88" y="398.90" width="6.81" height="7.32" fill="#0000b4"/><rect x="634.64" y="398.90" width="6.81" height="7.32" fill="#00009a"/><rect x="506.20" y="406.17" width="6.81" height="7.32" fill="#0000a2"/><rect x="512.96" y="406.17" width="6.81" height="7.32" fill="#0000b2"/><rect x="519.72" y="406.17" width="6.81" height="7.32" fill="#0000cc"/><rect x="526.48" y="406.17" width="6.81" height="7.32" fill="#000091"/><rect x="533.24" y="406.17" width="6.81" height="7.32" fill="#0000bd"/><rect x="540.00" y="406.17" width="6.81" height="7.32" fill="#0000c7"/><rect x="546.76" y="406.17" width="6.81" height="7.32" fill="#0000ec"/><rect x="553.52" y="406.17" width="6.81" height="7.32" fill="#0003ff"/><rect x="560.28" y="406.17" width="6.81" height="7.32" fill="#0021ff"/><rect x="567.04" y="406.17" width="6.81" height="7.32" fill="#0059ff"/><rect x="573.80" y="406.17" width="6.81" height="7.32" fill="#0054ff"/><rect x="580.56" y="406.17" width="6.81" height="7.32" fill="#005eff"/><rect x="587.32" y="406.17" width="6.81" height="7.32" fill="#0043ff"/><rect x="594.08" y="406.17" width="6.81" height="7.32" fill="#0026ff"/><rect x="600.84" y="406.17" width="6.81" height="7.32" fill="#0010ff"/><rect x="607.60" y="406.17" width="6.81" height="7.32" fill="#0000f1"/><rect x="614.36" y="406.17" width="6.81" height="7.32" fill="#0000fd"/><rect x="621.12" y="406.17" width="6.81" height="7.32" fill="#0000be"/><rect x="627.88" y="406.17" width="6.81" height="7.32" fill="#0000a3"/><rect x="634.64" y="406.17" width="6.81" height="7.32" fill="#00009a"/><rect x="506.20" y="413.44" width="6.81" height="7.32" fill="#000099"/><rect x="512.96" y="413.44" width="6.81" height="7.32" fill="#000099"/><rect x="519.72" y="413.44" width="6.81" height="7.32" fill="#0000b2"/><rect x="526.48" y="413.44" width="6.81" height="7.32" fill="#0000bc"/><rect x="533.24" y="413.44" width="6.81" height="7.32" fill="#0000bd"/><rect x="540.00" y="413.44" width="6.81" height="7.32" fill="#000093"/><rect x="546.76" y="413.44" width="6.81" height="7.32" fill="#00009e"/><rect x="553.52" y="413.44" width="6.81" height="7.32" fill="#0000ff"/><rect x="560.28" y="413.44" width="6.81" height="7.32" fill="#001eff"/><rect x="567.04" y="413.44" width="6.81" height="7.32" fill="#004cff"/><rect x="573.80" y="413.44" width="6.81" height="7.32" fill="#0047ff"/><rect x="580.56" y="413.44" width="6.81" height="7.32" fill="#0048ff"/><rect x="587.32" y="413.44" width="6.81" height="7.32" fill="#0036ff"/><rect x="594.08" y="413.44" width="6.81" height="7.32" fill="#003cff"/><rect x="600.84" y="413.44" width="6.81" height="7.32" fill="#0037ff"/><rect x="607.60" y="413.44" width="6.81" height="7.32" fill="#0000dd"/><rect x="614.36" y="413.44" width="6.81" height="7.32" fill="#0000f3"/><rect x="621.12" y="413.44" width="6.81" height="7.32" fill="#0000cf"/><rect x="627.88" y="413.44" width="6.81" height="7.32" fill="#0000a3"/><rect x="634.64" y="413.44" width="6.81" height="7.32" fill="#00009a"/><rect x="506.20" y="420.71" width="6.81" height="7.32" fill="#0000ee"/><rect x="512.96" y="420.71" width="6.81" height="7.32" fill="#0000f6"/><rect x="519.72" y="420.71" width="6.81" height="7.32" fill="#0000ee"/><rect x="526.48" y="420.71" width="6.81" height="7.32" fill="#0000f7"/><rect x="533.24" y="420.71" width="6.81" height="7.32" fill="#0000cd"/><rect x="540.00" y="420.71" width="6.81" height="7.32" fill="#000092"/><rect x="546.76" y="420.71" width="6.81" height="7.32" fill="#00009c"/><rect x="553.52" y="420.71" width="6.81" height="7.32" fill="#0000f4"/><rect x="560.28" y="420.71" width="6.81" height="7.32" fill="#0001ff"/><rect x="567.04" y="420.71" width="6.81" height="7.32" fill="#0036ff"/><rect x="573.80" y="420.71" width="6.81" height="7.32" fill="#004aff"/><rect x="580.56" y="420.71" width="6.81" height="7.32" fill="#004bff"/><rect x="587.32" y="420.71" width="6.81" height="7.32" fill="#000eff"/><rect x="594.08" y="420.71" width="6.81" height="7.32" fill="#0000fa"/><rect x="600.84" y="420.71" width="6.81" height="7.32" fill="#0009ff"/><rect x="607.60" y="420.71" width="6.81" height="7.32" fill="#0000eb"/><rect x="614.36" y="420.71" width="6.81" height="7.32" fill="#0000e9"/><rect x="621.12" y="420.71" width="6.81" height="7.32" fill="#0000a3"/><rect x="627.88" y="420.71" width="6.81" height="7.32" fill="#00009a"/><rect x="634.64" y="420.71" width="6.81" height="7.32" fill="#00009a"/><rect x="506.20" y="427.98" width="6.81" height="7.32" fill="#0000e5"/><rect x="512.96" y="427.98" width="6.81" height="7.32" fill="#0000e5"/><rect x="519.72" y="427.98" width="6.81" height="7.32" fill="#0000e5"/><rect x="526.48" y="427.98" width="6.81" height="7.32" fill="#0000dd"/><rect x="533.24" y="427.98" width="6.81" height="7.32" fill="#0000d5"/><rect x="540.00" y="427.98" width="6.81" height="7.32" fill="#0000c5"/><rect x="546.76" y="427.98" width="6.81" height="7.32" fill="#0000d7"/><rect x="553.52" y="427.98" width="6.81" height="7.32" fill="#0000d9"/><rect x="560.28" y="427.98" width="6.81" height="7.32" fill="#0006ff"/><rect x="567.04" y="427.98" width="6.81" height="7.32" fill="#0008ff"/><rect x="573.80" y="427.98" width="6.81" height="7.32" fill="#0023ff"/><rect x="580.56" y="427.98" width="6.81" height="7.32" fill="#0012ff"/><rect x="587.32" y="427.98" width="6.81" height="7.32" fill="#0012ff"/><rect x="594.08" y="427.98" width="6.81" height="7.32" fill="#0000fe"/><rect x="600.84" y="427.98" width="6.81" height="7.32" fill="#0000f4"/><rect x="607.60" y="427.98" width="6.81" height="7.32" fill="#0000e1"/><rect x="614.36" y="427.98" width="6.81" height="7.32" fill="#0000cf"/><rect x="621.12" y="427.98" width="6.81" height="7.32" fill="#0000bd"/><rect x="627.88" y="427.98" width="6.81" height="7.32" fill="#0000b3"/><rect x="634.64" y="427.98" width="6.81" height="7.32" fill="#0000a2"/><rect x="506.20" y="435.25" width="6.81" height="7.32" fill="#0000d4"/><rect x="512.96" y="435.25" width="6.81" height="7.32" fill="#0000c3"/><rect x="519.72" y="435.25" width="6.81" height="7.32" fill="#0000e5"/><rect x="526.48" y="435.25" width="6.81" height="7.32" fill="#0000d4"/><rect x="533.24" y="435.25" width="6.81" height="7.32" fill="#0000d4"/><rect x="540.00" y="435.25" width="6.81" height="7.32" fill="#0000cd"/><rect x="546.76" y="435.25" width="6.81" height="7.32" fill="#0000e7"/><rect x="553.52" y="435.25" width="6.81" height="7.32" fill="#0000f9"/><rect x="560.28" y="435.25" width="6.81" height="7.32" fill="#0000fa"/><rect x="567.04" y="435.25" width="6.81" height="7.32" fill="#0004ff"/><rect x="573.80" y="435.25" width="6.81" height="7.32" fill="#0005ff"/><rect x="580.56" y="435.25" width="6.81" height="7.32" fill="#0000b0"/><rect x="587.32" y="435.25" width="6.81" height="7.32" fill="#0000c9"/><rect x="594.08" y="435.25" width="6.81" height="7.32" fill="#0000e1"/><rect x="600.84" y="435.25" width="6.81" height="7.32" fill="#0000d8"/><rect x="607.60" y="435.25" width="6.81" height="7.32" fill="#0000d7"/><rect x="614.36" y="435.25" width="6.81" height="7.32" fill="#0000b4"/><rect x="621.12" y="435.25" width="6.81" height="7.32" fill="#0000b3"/><rect x="627.88" y="435.25" width="6.81" height="7.32" fill="#0000a2"/><rect x="634.64" y="435.25" width="6.81" height="7.32" fill="#0000a2"/><rect x="506.20" y="442.52" width="6.81" height="7.32" fill="#000099"/><rect x="512.96" y="442.52" width="6.81" height="7.32" fill="#0000b2"/><rect x="519.72" y="442.52" width="6.81" height="7.32" fill="#0000a2"/><rect x="526.48" y="442.52" width="6.81" height="7.32" fill="#000099"/><rect x="533.24" y="442.52" width="6.81" height="7.32" fill="#000099"/><rect x="540.00" y="442.52" width="6.81" height="7.32" fill="#000099"/><rect x="546.76" y="442.52" width="6.81" height="7.32" fill="#00009a"/><rect x="553.52" y="442.52" width="6.81" height="7.32" fill="#0000d5"/><rect x="560.28" y="442.52" width="6.81" height="7.32" fill="#0000e7"/><rect x="567.04" y="442.52" width="6.81" height="7.32" fill="#0000b5"/><rect x="573.80" y="442.52" width="6.81" height="7.32" fill="#0000f1"/><rect x="580.56" y="442.52" width="6.81" height="7.32" fill="#0000cf"/><rect x="587.32" y="442.52" width="6.81" height="7.32" fill="#0000be"/><rect x="594.08" y="442.52" width="6.81" height="7.32" fill="#0000e8"/><rect x="600.84" y="442.52" width="6.81" height="7.32" fill="#0000d6"/><rect x="607.60" y="442.52" width="6.81" height="7.32" fill="#0000d5"/><rect x="614.36" y="442.52" width="6.81" height="7.32" fill="#0000a2"/><rect x="621.12" y="442.52" width="6.81" height="7.32" fill="#0000aa"/><rect x="627.88" y="442.52" width="6.81" height="7.32" fill="#0000a2"/><rect x="634.64" y="442.52" width="6.81" height="7.32" fill="#0000a2"/><rect x="506.20" y="449.79" width="6.81" height="7.32" fill="#0000a2"/><rect x="512.96" y="449.79" width="6.81" height="7.32" fill="#0000b2"/><rect x="519.72" y="449.79" width="6.81" height="7.32" fill="#0000cc"/><rect x="526.48" y="449.79" width="6.81" height="7.32" fill="#0000c3"/><rect x="533.24" y="449.79" width="6.81" height="7.32" fill="#000099"/><rect x="540.00" y="449.79" width="6.81" height="7.32" fill="#000099"/><rect x="546.76" y="449.79" width="6.81" height="7.32" fill="#000099"/><rect x="553.52" y="449.79" width="6.81" height="7.32" fill="#0000a2"/><rect x="560.28" y="449.79" width="6.81" height="7.32" fill="#0000a2"/><rect x="567.04" y="449.79" width="6.81" height="7.32" fill="#0000a2"/><rect x="573.80" y="449.79" width="6.81" height="7.32" fill="#0000e6"/><rect x="580.56" y="449.79" width="6.81" height="7.32" fill="#0000e7"/><rect x="587.32" y="449.79" width="6.81" height="7.32" fill="#0000ef"/><rect x="594.08" y="449.79" width="6.81" height="7.32" fill="#0000d5"/><rect x="600.84" y="449.79" width="6.81" height="7.32" fill="#0000cd"/><rect x="607.60" y="449.79" width="6.81" height="7.32" fill="#0000c4"/><rect x="614.36" y="449.79" width="6.81" height="7.32" fill="#0000bb"/><rect x="621.12" y="449.79" width="6.81" height="7.32" fill="#0000a2"/><rect x="627.88" y="449.79" width="6.81" height="7.32" fill="#0000a2"/><rect x="634.64" y="449.79" width="6.81" height="7.32" fill="#000099"/><rect x="506.20" y="457.06" width="6.81" height="7.32" fill="#0000a2"/><rect x="512.96" y="457.06" width="6.81" height="7.32" fill="#0000a2"/><rect x="519.72" y="457.06" width="6.81" height="7.32" fill="#0000b2"/><rect x="526.48" y="457.06" width="6.81" height="7.32" fill="#000099"/><rect x="533.24" y="457.06" width="6.81" height="7.32" fill="#0000c3"/><rect x="540.00" y="457.06" width="6.81" height="7.32" fill="#0000c3"/><rect x="546.76" y="457.06" width="6.81" height="7.32" fill="#0000bb"/><rect x="553.52" y="457.06" width="6.81" height="7.32" fill="#0000aa"/><rect x="560.28" y="457.06" width="6.81" height="7.32" fill="#0000aa"/><rect x="567.04" y="457.06" width="6.81" height="7.32" fill="#0000c4"/><rect x="573.80" y="457.06" width="6.81" height="7.32" fill="#0000e6"/><rect x="580.56" y="457.06" width="6.81" height="7.32" fill="#0000e6"/><rect x="587.32" y="457.06" width="6.81" height="7.32" fill="#0000c4"/><rect x="594.08" y="457.06" width="6.81" height="7.32" fill="#0000ab"/><rect x="600.84" y="457.06" width="6.81" height="7.32" fill="#0000bb"/><rect x="607.60" y="457.06" width="6.81" height="7.32" fill="#0000a2"/><rect x="614.36" y="457.06" width="6.81" height="7.32" fill="#0000b2"/><rect x="621.12" y="457.06" width="6.81" height="7.32" fill="#0000b2"/><rect x="627.88" y="457.06" width="6.81" height="7.32" fill="#0000a2"/><rect x="634.64" y="457.06" width="6.81" height="7.32" fill="#000099"/><rect x="506.20" y="464.33" width="6.81" height="7.32" fill="#0000a2"/><rect x="512.96" y="464.33" width="6.81" height="7.32" fill="#0000a2"/><rect x="519.72" y="464.33" width="6.81" height="7.32" fill="#0000c3"/><rect x="526.48" y="464.33" width="6.81" height="7.32" fill="#0000a2"/><rect x="533.24" y="464.33" width="6.81" height="7.32" fill="#0000b2"/><rect x="540.00" y="464.33" width="6.81" height="7.32" fill="#0000b2"/><rect x="546.76" y="464.33" width="6.81" height="7.32" fill="#0000a2"/><rect x="553.52" y="464.33" width="6.81" height="7.32" fill="#0000aa"/><rect x="560.28" y="464.33" width="6.81" height="7.32" fill="#0000b2"/><rect x="567.04" y="464.33" width="6.81" height="7.32" fill="#0000c3"/><rect x="573.80" y="464.33" width="6.81" height="7.32" fill="#0000b2"/><rect x="580.56" y="464.33" width="6.81" height="7.32" fill="#0000cc"/><rect x="587.32" y="464.33" width="6.81" height="7.32" fill="#0000aa"/><rect x="594.08" y="464.33" width="6.81" height="7.32" fill="#0000a2"/><rect x="600.84" y="464.33" width="6.81" height="7.32" fill="#0000b2"/><rect x="607.60" y="464.33" width="6.81" height="7.32" fill="#0000aa"/><rect x="614.36" y="464.33" width="6.81" height="7.32" fill="#0000a2"/><rect x="621.12" y="464.33" width="6.81" height="7.32" fill="#000099"/><rect x="627.88" y="464.33" width="6.81" height="7.32" fill="#0000aa"/><rect x="634.64" y="464.33" width="6.81" height="7.32" fill="#000099"/></g>
<rect x="506.55" y="326.55" width="134.50" height="144.70" fill="none" stroke="#14143a" stroke-width="0.7"/>
<rect x="55.90" y="267.5" width="139.60" height="48.2" fill="none" stroke="#7d7d7d" stroke-width="1.2"/>
<rect x="2.40" y="326.4" width="46.80" height="145.1" fill="none" stroke="#7d7d7d" stroke-width="1.2"/>
<line x1="68.90" y1="315.70" x2="68.90" y2="317.60" stroke="#888" stroke-width="0.9" />
<line x1="102.17" y1="315.70" x2="102.17" y2="317.60" stroke="#888" stroke-width="0.9" />
<line x1="135.44" y1="315.70" x2="135.44" y2="317.60" stroke="#888" stroke-width="0.9" />
<line x1="168.71" y1="315.70" x2="168.71" y2="317.60" stroke="#888" stroke-width="0.9" />
<line x1="54.10" y1="290.50" x2="55.90" y2="290.50" stroke="#888" stroke-width="0.9" />
<line x1="0.60" y1="333.70" x2="2.40" y2="333.70" stroke="#999" stroke-width="0.9" />
<line x1="56.10" y1="333.70" x2="58.10" y2="333.70" stroke="#999" stroke-width="0.9" />
<line x1="0.60" y1="352.83" x2="2.40" y2="352.83" stroke="#999" stroke-width="0.9" />
<line x1="56.10" y1="352.83" x2="58.10" y2="352.83" stroke="#999" stroke-width="0.9" />
<line x1="0.60" y1="371.96" x2="2.40" y2="371.96" stroke="#999" stroke-width="0.9" />
<line x1="56.10" y1="371.96" x2="58.10" y2="371.96" stroke="#999" stroke-width="0.9" />
<line x1="0.60" y1="391.09" x2="2.40" y2="391.09" stroke="#999" stroke-width="0.9" />
<line x1="56.10" y1="391.09" x2="58.10" y2="391.09" stroke="#999" stroke-width="0.9" />
<line x1="0.60" y1="410.22" x2="2.40" y2="410.22" stroke="#999" stroke-width="0.9" />
<line x1="56.10" y1="410.22" x2="58.10" y2="410.22" stroke="#999" stroke-width="0.9" />
<line x1="0.60" y1="429.35" x2="2.40" y2="429.35" stroke="#999" stroke-width="0.9" />
<line x1="56.10" y1="429.35" x2="58.10" y2="429.35" stroke="#999" stroke-width="0.9" />
<line x1="0.60" y1="448.48" x2="2.40" y2="448.48" stroke="#999" stroke-width="0.9" />
<line x1="56.10" y1="448.48" x2="58.10" y2="448.48" stroke="#999" stroke-width="0.9" />
<line x1="0.60" y1="467.61" x2="2.40" y2="467.61" stroke="#999" stroke-width="0.9" />
<line x1="56.10" y1="467.61" x2="58.10" y2="467.61" stroke="#999" stroke-width="0.9" />
<line x1="65.60" y1="471.60" x2="65.60" y2="473.40" stroke="#bbb" stroke-width="0.9" />
<line x1="83.25" y1="471.60" x2="83.25" y2="473.40" stroke="#bbb" stroke-width="0.9" />
<line x1="100.90" y1="471.60" x2="100.90" y2="473.40" stroke="#bbb" stroke-width="0.9" />
<line x1="118.55" y1="471.60" x2="118.55" y2="473.40" stroke="#bbb" stroke-width="0.9" />
<line x1="136.20" y1="471.60" x2="136.20" y2="473.40" stroke="#bbb" stroke-width="0.9" />
<line x1="153.85" y1="471.60" x2="153.85" y2="473.40" stroke="#bbb" stroke-width="0.9" />
<line x1="171.50" y1="471.60" x2="171.50" y2="473.40" stroke="#bbb" stroke-width="0.9" />
<line x1="189.15" y1="471.60" x2="189.15" y2="473.40" stroke="#bbb" stroke-width="0.9" />
<rect x="280.10" y="267.5" width="139.60" height="48.2" fill="none" stroke="#7d7d7d" stroke-width="1.2"/>
<rect x="226.60" y="326.4" width="46.80" height="145.1" fill="none" stroke="#7d7d7d" stroke-width="1.2"/>
<line x1="293.10" y1="315.70" x2="293.10" y2="317.60" stroke="#888" stroke-width="0.9" />
<line x1="326.37" y1="315.70" x2="326.37" y2="317.60" stroke="#888" stroke-width="0.9" />
<line x1="359.64" y1="315.70" x2="359.64" y2="317.60" stroke="#888" stroke-width="0.9" />
<line x1="392.91" y1="315.70" x2="392.91" y2="317.60" stroke="#888" stroke-width="0.9" />
<line x1="278.30" y1="290.50" x2="280.10" y2="290.50" stroke="#888" stroke-width="0.9" />
<line x1="224.80" y1="333.70" x2="226.60" y2="333.70" stroke="#999" stroke-width="0.9" />
<line x1="280.00" y1="333.70" x2="282.00" y2="333.70" stroke="#999" stroke-width="0.9" />
<line x1="224.80" y1="352.83" x2="226.60" y2="352.83" stroke="#999" stroke-width="0.9" />
<line x1="280.00" y1="352.83" x2="282.00" y2="352.83" stroke="#999" stroke-width="0.9" />
<line x1="224.80" y1="371.96" x2="226.60" y2="371.96" stroke="#999" stroke-width="0.9" />
<line x1="280.00" y1="371.96" x2="282.00" y2="371.96" stroke="#999" stroke-width="0.9" />
<line x1="224.80" y1="391.09" x2="226.60" y2="391.09" stroke="#999" stroke-width="0.9" />
<line x1="280.00" y1="391.09" x2="282.00" y2="391.09" stroke="#999" stroke-width="0.9" />
<line x1="224.80" y1="410.22" x2="226.60" y2="410.22" stroke="#999" stroke-width="0.9" />
<line x1="280.00" y1="410.22" x2="282.00" y2="410.22" stroke="#999" stroke-width="0.9" />
<line x1="224.80" y1="429.35" x2="226.60" y2="429.35" stroke="#999" stroke-width="0.9" />
<line x1="280.00" y1="429.35" x2="282.00" y2="429.35" stroke="#999" stroke-width="0.9" />
<line x1="224.80" y1="448.48" x2="226.60" y2="448.48" stroke="#999" stroke-width="0.9" />
<line x1="280.00" y1="448.48" x2="282.00" y2="448.48" stroke="#999" stroke-width="0.9" />
<line x1="224.80" y1="467.61" x2="226.60" y2="467.61" stroke="#999" stroke-width="0.9" />
<line x1="280.00" y1="467.61" x2="282.00" y2="467.61" stroke="#999" stroke-width="0.9" />
<line x1="289.50" y1="471.60" x2="289.50" y2="473.40" stroke="#bbb" stroke-width="0.9" />
<line x1="307.15" y1="471.60" x2="307.15" y2="473.40" stroke="#bbb" stroke-width="0.9" />
<line x1="324.80" y1="471.60" x2="324.80" y2="473.40" stroke="#bbb" stroke-width="0.9" />
<line x1="342.45" y1="471.60" x2="342.45" y2="473.40" stroke="#bbb" stroke-width="0.9" />
<line x1="360.10" y1="471.60" x2="360.10" y2="473.40" stroke="#bbb" stroke-width="0.9" />
<line x1="377.75" y1="471.60" x2="377.75" y2="473.40" stroke="#bbb" stroke-width="0.9" />
<line x1="395.40" y1="471.60" x2="395.40" y2="473.40" stroke="#bbb" stroke-width="0.9" />
<line x1="413.05" y1="471.60" x2="413.05" y2="473.40" stroke="#bbb" stroke-width="0.9" />
<rect x="504.20" y="267.5" width="139.60" height="48.2" fill="none" stroke="#7d7d7d" stroke-width="1.2"/>
<rect x="450.70" y="326.4" width="46.80" height="145.1" fill="none" stroke="#7d7d7d" stroke-width="1.2"/>
<line x1="517.20" y1="315.70" x2="517.20" y2="317.60" stroke="#888" stroke-width="0.9" />
<line x1="550.47" y1="315.70" x2="550.47" y2="317.60" stroke="#888" stroke-width="0.9" />
<line x1="583.74" y1="315.70" x2="583.74" y2="317.60" stroke="#888" stroke-width="0.9" />
<line x1="617.01" y1="315.70" x2="617.01" y2="317.60" stroke="#888" stroke-width="0.9" />
<line x1="502.40" y1="290.50" x2="504.20" y2="290.50" stroke="#888" stroke-width="0.9" />
<line x1="448.90" y1="333.70" x2="450.70" y2="333.70" stroke="#999" stroke-width="0.9" />
<line x1="504.20" y1="333.70" x2="506.20" y2="333.70" stroke="#999" stroke-width="0.9" />
<line x1="448.90" y1="352.83" x2="450.70" y2="352.83" stroke="#999" stroke-width="0.9" />
<line x1="504.20" y1="352.83" x2="506.20" y2="352.83" stroke="#999" stroke-width="0.9" />
<line x1="448.90" y1="371.96" x2="450.70" y2="371.96" stroke="#999" stroke-width="0.9" />
<line x1="504.20" y1="371.96" x2="506.20" y2="371.96" stroke="#999" stroke-width="0.9" />
<line x1="448.90" y1="391.09" x2="450.70" y2="391.09" stroke="#999" stroke-width="0.9" />
<line x1="504.20" y1="391.09" x2="506.20" y2="391.09" stroke="#999" stroke-width="0.9" />
<line x1="448.90" y1="410.22" x2="450.70" y2="410.22" stroke="#999" stroke-width="0.9" />
<line x1="504.20" y1="410.22" x2="506.20" y2="410.22" stroke="#999" stroke-width="0.9" />
<line x1="448.90" y1="429.35" x2="450.70" y2="429.35" stroke="#999" stroke-width="0.9" />
<line x1="504.20" y1="429.35" x2="506.20" y2="429.35" stroke="#999" stroke-width="0.9" />
<line x1="448.90" y1="448.48" x2="450.70" y2="448.48" stroke="#999" stroke-width="0.9" />
<line x1="504.20" y1="448.48" x2="506.20" y2="448.48" stroke="#999" stroke-width="0.9" />
<line x1="448.90" y1="467.61" x2="450.70" y2="467.61" stroke="#999" stroke-width="0.9" />
<line x1="504.20" y1="467.61" x2="506.20" y2="467.61" stroke="#999" stroke-width="0.9" />
<line x1="513.70" y1="471.60" x2="513.70" y2="473.40" stroke="#bbb" stroke-width="0.9" />
<line x1="531.35" y1="471.60" x2="531.35" y2="473.40" stroke="#bbb" stroke-width="0.9" />
<line x1="549.00" y1="471.60" x2="549.00" y2="473.40" stroke="#bbb" stroke-width="0.9" />
<line x1="566.65" y1="471.60" x2="566.65" y2="473.40" stroke="#bbb" stroke-width="0.9" />
<line x1="584.30" y1="471.60" x2="584.30" y2="473.40" stroke="#bbb" stroke-width="0.9" />
<line x1="601.95" y1="471.60" x2="601.95" y2="473.40" stroke="#bbb" stroke-width="0.9" />
<line x1="619.60" y1="471.60" x2="619.60" y2="473.40" stroke="#bbb" stroke-width="0.9" />
<line x1="637.25" y1="471.60" x2="637.25" y2="473.40" stroke="#bbb" stroke-width="0.9" />
<text x="113.12" y="458.04" textLength="30.48" lengthAdjust="spacingAndGlyphs" style="font-family:'Liberation Sans',sans-serif;font-size:12.60px;font-weight:bold" fill="#fff">1 cm</text>
<line x1="58.10" y1="401.90" x2="193.30" y2="401.90" stroke="#ff0000" stroke-width="2.0" />
<line x1="128.70" y1="326.20" x2="128.70" y2="471.60" stroke="#14a84a" stroke-width="2.0" />
<line x1="353.00" y1="326.20" x2="353.00" y2="471.60" stroke="#14a84a" stroke-width="2.0" />
<line x1="282.00" y1="401.90" x2="417.20" y2="401.90" stroke="#ff0000" stroke-width="2.0" />
<line x1="576.90" y1="326.20" x2="576.90" y2="471.60" stroke="#14a84a" stroke-width="2.0" />
<line x1="506.20" y1="401.90" x2="641.40" y2="401.90" stroke="#ff0000" stroke-width="2.0" />
<polyline points="62.00,312.40 69.00,312.40 75.40,312.30 82.40,312.10 88.80,311.50 95.20,310.00 102.20,306.80 108.60,300.40 115.60,290.00 122.50,280.60 129.10,272.70 135.50,271.90 141.90,276.60 148.30,284.70 154.70,293.40 162.30,301.60 169.30,307.40 176.20,310.10 182.10,311.50 188.80,311.80" fill="none" stroke="#0000ff" stroke-width="1.0" stroke-linejoin="round" />
<polyline points="62.00,310.30 68.40,310.30 75.40,311.80 82.40,309.20 88.80,308.90 95.20,307.40 102.20,303.30 108.60,298.70 115.60,289.40 122.50,283.50 128.80,269.20 135.50,270.20 141.90,270.40 148.90,283.60 155.30,296.40 162.30,302.20 168.70,307.60 175.70,310.70 182.10,313.20 188.80,312.30" fill="none" stroke="#ff0000" stroke-width="1.05" stroke-linejoin="round" />
<polyline points="47.80,326.70 47.67,329.67 47.50,333.96 47.27,338.55 47.00,342.40 46.69,345.16 46.34,347.40 45.92,349.49 45.40,351.80 44.77,354.53 44.04,357.44 43.22,360.26 42.30,362.70 41.39,364.53 40.44,365.94 39.26,367.31 37.60,369.00 35.33,371.06 32.59,373.31 29.60,375.76 26.60,378.40 23.38,381.43 19.90,384.79 16.65,388.08 14.10,390.90 12.45,393.12 11.41,394.97 10.77,396.56 10.30,398.00 9.99,399.18 9.96,400.09 10.11,401.00 10.40,402.20 10.76,403.81 11.26,405.66 11.94,407.61 12.90,409.50 14.19,411.31 15.76,413.11 17.50,414.90 19.30,416.70 21.19,418.48 23.20,420.24 25.26,422.04 27.30,423.90 29.35,425.86 31.44,427.90 33.46,429.96 35.30,432.00 36.95,434.01 38.45,436.01 39.80,438.00 41.00,440.00 42.01,442.00 42.86,444.00 43.57,446.00 44.20,448.00 44.73,449.85 45.15,451.59 45.49,453.54 45.80,456.00 46.07,459.51 46.30,463.75 46.47,467.74 46.60,470.50" fill="none" stroke="#0000ff" stroke-width="1.0" stroke-linejoin="round" />
<polyline points="47.50,326.70 46.20,334.40 45.40,342.20 43.10,349.40 39.20,356.50 39.70,364.00 33.90,371.00 26.50,379.00 14.10,386.40 9.80,394.70 7.00,402.20 11.20,410.10 24.10,418.00 31.30,425.70 39.40,432.50 40.20,440.00 41.80,448.00 47.40,456.00 46.60,462.50 48.20,470.50" fill="none" stroke="#0a7a0a" stroke-width="1.5" stroke-linejoin="round" />
<polyline points="285.90,311.50 292.60,311.20 299.60,310.40 306.00,309.20 312.40,306.90 319.40,302.80 325.80,297.00 332.80,291.10 339.20,284.70 345.90,279.50 352.60,275.50 359.30,274.20 366.00,276.00 372.70,280.60 379.40,287.60 386.10,295.20 392.80,301.00 399.50,305.40 406.20,308.40 412.90,309.60" fill="none" stroke="#0000ff" stroke-width="1.0" stroke-linejoin="round" />
<polyline points="285.90,310.40 292.60,311.90 299.60,306.50 306.00,306.30 312.40,302.80 319.40,299.90 325.80,296.40 332.80,292.30 339.20,280.40 345.90,279.20 352.70,275.10 359.40,278.50 366.10,269.20 372.70,273.40 379.50,285.30 385.90,297.50 392.90,303.40 399.30,306.90 406.30,311.90 412.70,313.30" fill="none" stroke="#ff0000" stroke-width="1.05" stroke-linejoin="round" />
<polyline points="270.70,326.40 270.51,328.40 270.24,331.27 269.88,334.53 269.40,337.70 268.81,340.78 268.11,343.97 267.29,347.15 266.30,350.20 265.13,353.06 263.79,355.80 262.34,358.49 260.80,361.20 259.18,363.97 257.45,366.75 255.65,369.48 253.80,372.10 251.85,374.59 249.80,376.99 247.78,379.30 245.90,381.50 244.15,383.60 242.47,385.59 240.96,387.49 239.70,389.30 238.75,390.97 238.05,392.53 237.52,394.04 237.10,395.60 236.75,397.19 236.51,398.79 236.42,400.44 236.50,402.20 236.75,404.10 237.16,406.11 237.74,408.19 238.50,410.30 239.47,412.43 240.62,414.61 241.92,416.83 243.30,419.10 244.79,421.44 246.40,423.84 248.06,426.27 249.70,428.70 251.32,431.12 252.94,433.55 254.55,435.98 256.10,438.40 257.61,440.77 259.10,443.10 260.51,445.48 261.80,448.00 262.96,450.71 264.01,453.55 264.95,456.44 265.80,459.30 266.57,462.37 267.25,465.61 267.81,468.49 268.20,470.50" fill="none" stroke="#0000ff" stroke-width="1.0" stroke-linejoin="round" />
<polyline points="265.00,326.40 269.40,333.30 261.60,341.10 264.70,348.90 257.20,356.50 259.70,363.50 256.10,371.80 236.50,379.60 239.70,387.80 237.60,395.30 236.50,402.20 239.30,410.30 245.70,417.50 250.00,425.50 247.80,433.20 263.40,440.80 267.40,448.00 267.40,456.00 265.00,462.50 265.00,470.50" fill="none" stroke="#0a7a0a" stroke-width="1.5" stroke-linejoin="round" />
<polyline points="509.90,310.70 517.10,310.10 523.50,308.90 530.20,306.80 536.70,304.50 543.30,300.40 549.70,295.80 556.50,290.50 563.10,285.30 569.80,281.60 576.60,279.50 583.30,278.90 590.00,280.60 596.60,284.10 603.30,288.20 610.00,293.20 616.60,299.10 623.30,302.80 630.00,306.10 636.60,308.00" fill="none" stroke="#0000ff" stroke-width="1.0" stroke-linejoin="round" />
<polyline points="509.90,313.50 517.10,312.10 523.50,303.30 530.20,302.20 536.70,307.40 543.30,299.80 549.70,290.90 556.50,290.20 563.10,279.20 569.80,284.10 577.20,280.10 583.40,269.20 590.10,274.60 596.50,284.40 603.20,286.70 609.90,292.50 616.90,301.40 623.30,296.70 630.30,304.00 636.70,313.00" fill="none" stroke="#ff0000" stroke-width="1.05" stroke-linejoin="round" />
<polyline points="493.70,326.40 493.12,329.39 492.29,333.72 491.32,338.38 490.30,342.40 489.25,345.52 488.13,348.26 486.92,350.80 485.60,353.30 484.14,355.76 482.54,358.09 480.91,360.39 479.30,362.70 477.73,365.09 476.15,367.49 474.60,369.86 473.10,372.10 471.64,374.18 470.21,376.15 468.85,378.07 467.60,380.00 466.45,381.96 465.39,383.91 464.45,385.85 463.70,387.80 463.15,389.78 462.78,391.78 462.54,393.73 462.40,395.60 462.32,397.24 462.34,398.73 462.48,400.30 462.80,402.20 463.27,404.46 463.88,406.96 464.67,409.71 465.70,412.70 467.04,416.06 468.63,419.75 470.36,423.51 472.10,427.10 473.86,430.47 475.69,433.75 477.53,436.93 479.30,440.00 481.03,442.95 482.75,445.80 484.37,448.55 485.80,451.20 487.01,453.73 488.06,456.15 488.97,458.52 489.80,460.90 490.57,463.53 491.25,466.31 491.81,468.78 492.20,470.50" fill="none" stroke="#0000ff" stroke-width="1.0" stroke-linejoin="round" />
<polyline points="496.90,326.70 489.50,333.00 485.30,341.10 485.30,348.90 475.90,356.10 477.40,364.00 466.50,371.80 468.00,379.60 468.00,387.80 470.60,394.90 463.30,402.20 467.30,410.30 466.00,417.50 464.10,424.70 486.60,432.80 487.40,440.80 481.70,448.00 486.60,454.40 492.20,462.50 492.20,470.50" fill="none" stroke="#0a7a0a" stroke-width="1.5" stroke-linejoin="round" />
<g fill="#fff" stroke="none"><rect x="107" y="440.7" width="43.5" height="1.8"/><polygon points="103,441.6 109.2,437.2 109.2,446.0"/><polygon points="154.3,441.6 148.1,437.2 148.1,446.0"/></g>
<line x1="194.50" y1="477.60" x2="194.50" y2="480.20" stroke="#777" stroke-width="0.9" />
<line x1="194.50" y1="475.90" x2="194.50" y2="476.70" stroke="#ccc" stroke-width="0.8" />
<line x1="642.50" y1="477.60" x2="642.50" y2="480.20" stroke="#777" stroke-width="0.9" />
<line x1="642.50" y1="475.90" x2="642.50" y2="476.70" stroke="#ccc" stroke-width="0.8" />
<defs><linearGradient id="cb" x1="0" y1="1" x2="0" y2="0"><stop offset="0.0000" stop-color="#000080"/><stop offset="0.0156" stop-color="#00008f"/><stop offset="0.0312" stop-color="#00009f"/><stop offset="0.0469" stop-color="#0000af"/><stop offset="0.0625" stop-color="#0000bf"/><stop offset="0.0781" stop-color="#0000cf"/><stop offset="0.0938" stop-color="#0000df"/><stop offset="0.1094" stop-color="#0000ef"/><stop offset="0.1250" stop-color="#0000ff"/><stop offset="0.1406" stop-color="#0010ff"/><stop offset="0.1562" stop-color="#0020ff"/><stop offset="0.1719" stop-color="#0030ff"/><stop offset="0.1875" stop-color="#0040ff"/><stop offset="0.2031" stop-color="#0050ff"/><stop offset="0.2188" stop-color="#0060ff"/><stop offset="0.2344" stop-color="#0070ff"/><stop offset="0.2500" stop-color="#0080ff"/><stop offset="0.2656" stop-color="#008fff"/><stop offset="0.2812" stop-color="#009fff"/><stop offset="0.2969" stop-color="#00afff"/><stop offset="0.3125" stop-color="#00bfff"/><stop offset="0.3281" stop-color="#00cfff"/><stop offset="0.3438" stop-color="#00dfff"/><stop offset="0.3594" stop-color="#00efff"/><stop offset="0.3750" stop-color="#00ffff"/><stop offset="0.3906" stop-color="#10ffef"/><stop offset="0.4062" stop-color="#20ffdf"/><stop offset="0.4219" stop-color="#30ffcf"/><stop offset="0.4375" stop-color="#40ffbf"/><stop offset="0.4531" stop-color="#50ffaf"/><stop offset="0.4688" stop-color="#60ff9f"/><stop offset="0.4844" stop-color="#70ff8f"/><stop offset="0.5000" stop-color="#80ff80"/><stop offset="0.5156" stop-color="#8fff70"/><stop offset="0.5312" stop-color="#9fff60"/><stop offset="0.5469" stop-color="#afff50"/><stop offset="0.5625" stop-color="#bfff40"/><stop offset="0.5781" stop-color="#cfff30"/><stop offset="0.5938" stop-color="#dfff20"/><stop offset="0.6094" stop-color="#efff10"/><stop offset="0.6250" stop-color="#ffff00"/><stop offset="0.6406" stop-color="#ffef00"/><stop offset="0.6562" stop-color="#ffdf00"/><stop offset="0.6719" stop-color="#ffcf00"/><stop offset="0.6875" stop-color="#ffbf00"/><stop offset="0.7031" stop-color="#ffaf00"/><stop offset="0.7188" stop-color="#ff9f00"/><stop offset="0.7344" stop-color="#ff8f00"/><stop offset="0.7500" stop-color="#ff8000"/><stop offset="0.7656" stop-color="#ff7000"/><stop offset="0.7812" stop-color="#ff6000"/><stop offset="0.7969" stop-color="#ff5000"/><stop offset="0.8125" stop-color="#ff4000"/><stop offset="0.8281" stop-color="#ff3000"/><stop offset="0.8438" stop-color="#ff2000"/><stop offset="0.8594" stop-color="#ff1000"/><stop offset="0.8750" stop-color="#ff0000"/><stop offset="0.8906" stop-color="#ef0000"/><stop offset="0.9062" stop-color="#df0000"/><stop offset="0.9219" stop-color="#cf0000"/><stop offset="0.9375" stop-color="#bf0000"/><stop offset="0.9531" stop-color="#af0000"/><stop offset="0.9688" stop-color="#9f0000"/><stop offset="0.9844" stop-color="#8f0000"/><stop offset="1.0000" stop-color="#800000"/></linearGradient></defs>
<rect x="650.3" y="326.3" width="11.7" height="145.2" fill="url(#cb)"/>
<rect x="650.65" y="326.65" width="11.0" height="144.5" fill="none" stroke="#222" stroke-width="0.7"/>
<line x1="662.00" y1="471.20" x2="664.40" y2="471.20" stroke="#555" stroke-width="0.9" />
<line x1="662.00" y1="447.05" x2="664.40" y2="447.05" stroke="#555" stroke-width="0.9" />
<line x1="662.00" y1="422.90" x2="664.40" y2="422.90" stroke="#555" stroke-width="0.9" />
<line x1="662.00" y1="398.75" x2="664.40" y2="398.75" stroke="#555" stroke-width="0.9" />
<line x1="662.00" y1="374.60" x2="664.40" y2="374.60" stroke="#555" stroke-width="0.9" />
<line x1="662.00" y1="350.45" x2="664.40" y2="350.45" stroke="#555" stroke-width="0.9" />
<line x1="662.00" y1="326.30" x2="664.40" y2="326.30" stroke="#555" stroke-width="0.9" />
<text x="250.17" y="11.60" textLength="123.39" lengthAdjust="spacingAndGlyphs" style="font-family:'Liberation Sans',sans-serif;font-size:13.20px" fill="#000">Experimental data</text>
<text x="438.36" y="11.58" textLength="16.01" lengthAdjust="spacingAndGlyphs" style="font-family:'Liberation Sans',sans-serif;font-size:13.20px" fill="#000">Fit</text>
<text x="28.15" y="173.60" textLength="8.81" lengthAdjust="spacingAndGlyphs" style="font-family:'Liberation Sans',sans-serif;font-size:13.20px" fill="#000">0</text>
<text x="27.92" y="147.96" textLength="9.06" lengthAdjust="spacingAndGlyphs" style="font-family:'Liberation Sans',sans-serif;font-size:13.20px" fill="#000">2</text>
<text x="28.39" y="122.32" textLength="8.16" lengthAdjust="spacingAndGlyphs" style="font-family:'Liberation Sans',sans-serif;font-size:13.20px" fill="#000">4</text>
<text x="28.10" y="96.68" textLength="8.96" lengthAdjust="spacingAndGlyphs" style="font-family:'Liberation Sans',sans-serif;font-size:13.20px" fill="#000">6</text>
<text x="27.89" y="71.04" textLength="8.99" lengthAdjust="spacingAndGlyphs" style="font-family:'Liberation Sans',sans-serif;font-size:13.20px" fill="#000">8</text>
<text x="19.66" y="45.40" textLength="17.33" lengthAdjust="spacingAndGlyphs" style="font-family:'Liberation Sans',sans-serif;font-size:13.20px" fill="#000">10</text>
<text x="54.18" y="195.45" textLength="8.53" lengthAdjust="spacingAndGlyphs" style="font-family:'Liberation Sans',sans-serif;font-size:13.20px" fill="#000">0</text>
<text x="112.09" y="195.45" textLength="17.36" lengthAdjust="spacingAndGlyphs" style="font-family:'Liberation Sans',sans-serif;font-size:13.20px" fill="#000">50</text>
<text x="170.40" y="195.45" textLength="25.83" lengthAdjust="spacingAndGlyphs" style="font-family:'Liberation Sans',sans-serif;font-size:13.20px" fill="#000">100</text>
<text x="232.81" y="195.45" textLength="26.13" lengthAdjust="spacingAndGlyphs" style="font-family:'Liberation Sans',sans-serif;font-size:13.20px" fill="#000">150</text>
<text x="296.04" y="195.45" textLength="25.16" lengthAdjust="spacingAndGlyphs" style="font-family:'Liberation Sans',sans-serif;font-size:13.20px" fill="#000">200</text>
<text x="155.94" y="211.40" textLength="54.39" lengthAdjust="spacingAndGlyphs" style="font-family:'Liberation Sans',sans-serif;font-size:13.40px" fill="#000">Time (s)</text>
<text x="175.18" y="236.63" textLength="16.76" lengthAdjust="spacingAndGlyphs" style="font-family:'Liberation Sans',sans-serif;font-size:13.00px;font-weight:bold" fill="#000">(a)</text>
<text x="185.32" y="95.50" textLength="111.62" lengthAdjust="spacingAndGlyphs" style="font-family:'Liberation Sans',sans-serif;font-size:12.80px" fill="#000"><tspan style="font-style:italic">α</tspan> = 0.35 <tspan dy="-3.6" style="font-size:8.4px">o</tspan><tspan dy="3.6">C·s</tspan><tspan dy="-4.2" style="font-size:8.4px">-1</tspan><tspan dy="4.2">·W</tspan><tspan dy="-4.2" style="font-size:8.4px">-1</tspan></text>
<text transform="translate(14.40,189.12) rotate(-90)" x="0" y="0" textLength="176.29" lengthAdjust="spacingAndGlyphs" style="font-family:'Liberation Sans',sans-serif;font-size:13.60px" fill="#000">Temperature increase (°C)</text>
<text x="358.17" y="180.20" textLength="17.49" lengthAdjust="spacingAndGlyphs" style="font-family:'Liberation Sans',sans-serif;font-size:13.20px" fill="#000">15</text>
<text x="358.62" y="153.25" textLength="16.93" lengthAdjust="spacingAndGlyphs" style="font-family:'Liberation Sans',sans-serif;font-size:13.20px" fill="#000">20</text>
<text x="358.41" y="126.30" textLength="17.38" lengthAdjust="spacingAndGlyphs" style="font-family:'Liberation Sans',sans-serif;font-size:13.20px" fill="#000">25</text>
<text x="358.47" y="99.35" textLength="17.02" lengthAdjust="spacingAndGlyphs" style="font-family:'Liberation Sans',sans-serif;font-size:13.20px" fill="#000">30</text>
<text x="358.48" y="72.40" textLength="17.29" lengthAdjust="spacingAndGlyphs" style="font-family:'Liberation Sans',sans-serif;font-size:13.20px" fill="#000">35</text>
<text x="358.93" y="45.45" textLength="16.66" lengthAdjust="spacingAndGlyphs" style="font-family:'Liberation Sans',sans-serif;font-size:13.20px" fill="#000">40</text>
<text x="411.61" y="195.45" textLength="17.63" lengthAdjust="spacingAndGlyphs" style="font-family:'Liberation Sans',sans-serif;font-size:13.20px" fill="#000">60</text>
<text x="457.62" y="195.45" textLength="17.51" lengthAdjust="spacingAndGlyphs" style="font-family:'Liberation Sans',sans-serif;font-size:13.20px" fill="#000">70</text>
<text x="503.97" y="195.45" textLength="17.29" lengthAdjust="spacingAndGlyphs" style="font-family:'Liberation Sans',sans-serif;font-size:13.20px" fill="#000">80</text>
<text x="550.31" y="195.45" textLength="17.25" lengthAdjust="spacingAndGlyphs" style="font-family:'Liberation Sans',sans-serif;font-size:13.20px" fill="#000">90</text>
<text x="591.83" y="195.45" textLength="25.89" lengthAdjust="spacingAndGlyphs" style="font-family:'Liberation Sans',sans-serif;font-size:13.20px" fill="#000">100</text>
<text x="637.98" y="195.45" textLength="25.86" lengthAdjust="spacingAndGlyphs" style="font-family:'Liberation Sans',sans-serif;font-size:13.20px" fill="#000">110</text>
<text x="495.01" y="211.40" textLength="54.20" lengthAdjust="spacingAndGlyphs" style="font-family:'Liberation Sans',sans-serif;font-size:13.40px" fill="#000">Time (s)</text>
<text x="513.54" y="237.62" textLength="17.58" lengthAdjust="spacingAndGlyphs" style="font-family:'Liberation Sans',sans-serif;font-size:13.00px;font-weight:bold" fill="#000">(b)</text>
<text x="537.52" y="148.40" textLength="101.16" lengthAdjust="spacingAndGlyphs" style="font-family:'Liberation Sans',sans-serif;font-size:12.80px" fill="#000"><tspan style="font-style:italic">D</tspan> = 0.23 mm<tspan dy="-4.2" style="font-size:8.4px">2</tspan><tspan dy="4.2">·s</tspan><tspan dy="-4.2" style="font-size:8.4px">-1</tspan></text>
<text transform="translate(352.02,128.93) rotate(-90)" x="0" y="0" textLength="57.67" lengthAdjust="spacingAndGlyphs" style="font-family:'Liberation Sans',sans-serif;font-size:13.40px" fill="#000">σ<tspan dy="-4.5" style="font-size:9.5px">2</tspan><tspan dy="4.5">(mm</tspan><tspan dy="-4.5" style="font-size:9.5px">2</tspan><tspan dy="4.5">)</tspan></text>
<text x="5.99" y="296.50" textLength="37.17" lengthAdjust="spacingAndGlyphs" style="font-family:'Liberation Sans',sans-serif;font-size:12.90px" fill="#000"><tspan style="font-style:italic">t</tspan>=55 s</text>
<text x="231.46" y="296.50" textLength="37.02" lengthAdjust="spacingAndGlyphs" style="font-family:'Liberation Sans',sans-serif;font-size:12.90px" fill="#000"><tspan style="font-style:italic">t</tspan>=80 s</text>
<text x="454.34" y="296.50" textLength="37.11" lengthAdjust="spacingAndGlyphs" style="font-family:'Liberation Sans',sans-serif;font-size:12.90px" fill="#000"><tspan style="font-style:italic">t</tspan>=95 s</text>
<text x="651.83" y="306.80" textLength="23.04" lengthAdjust="spacingAndGlyphs" style="font-family:'Liberation Sans',sans-serif;font-size:13.30px" fill="#000">[<tspan dy="-5.2" style="font-size:8.6px">o</tspan><tspan dy="5.2">C]</tspan></text>
<text x="669.82" y="474.61" textLength="8.18" lengthAdjust="spacingAndGlyphs" style="font-family:'Liberation Sans',sans-serif;font-size:12.80px" fill="#000">0</text>
<text x="669.94" y="427.87" textLength="7.82" lengthAdjust="spacingAndGlyphs" style="font-family:'Liberation Sans',sans-serif;font-size:12.80px" fill="#000">4</text>
<text x="669.59" y="379.21" textLength="8.51" lengthAdjust="spacingAndGlyphs" style="font-family:'Liberation Sans',sans-serif;font-size:12.80px" fill="#000">8</text>
<text x="669.58" y="330.79" textLength="15.43" lengthAdjust="spacingAndGlyphs" style="font-family:'Liberation Sans',sans-serif;font-size:12.80px" fill="#000">12</text>
<text x="331.00" y="493.63" textLength="17.69" lengthAdjust="spacingAndGlyphs" style="font-family:'Liberation Sans',sans-serif;font-size:13.00px;font-weight:bold" fill="#000">(c)</text>
</svg>
</body></html>
